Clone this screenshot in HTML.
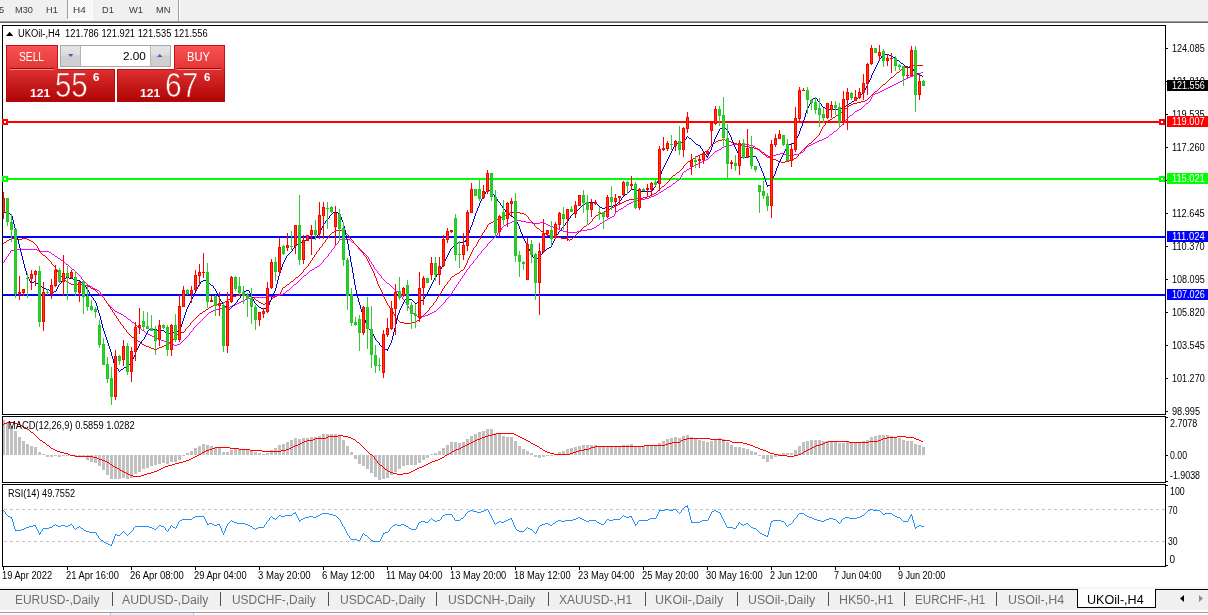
<!DOCTYPE html>
<html><head><meta charset="utf-8"><title>chart</title>
<style>
html,body{margin:0;padding:0;background:#fff;}
body{width:1208px;height:615px;position:relative;overflow:hidden;font-family:"Liberation Sans",sans-serif;}
.t{position:absolute;white-space:pre;line-height:1;font-family:"Liberation Sans",sans-serif;}
.box{position:absolute;}
</style></head><body>
<div class="box" style="left:0;top:0;width:1208px;height:21px;background:#f0f0f0"></div>
<div class="box" style="left:0;top:21px;width:1208px;height:1px;background:#9c9c9c"></div>
<div class="box" style="left:0;top:22px;width:1208px;height:1px;background:#686868"></div>
<div class="box" style="left:67px;top:0;width:26px;height:20px;background:#fff"></div>
<div class="box" style="left:68px;top:0;width:24px;height:19px;background:repeating-conic-gradient(#ffffff 0% 25%,#f0f0f0 0% 50%) 0 0/2px 2px"></div>
<div class="box" style="left:67px;top:0;width:1px;height:19px;background:#a0a0a0"></div>
<div class="box" style="left:178px;top:0;width:1px;height:21px;background:#a0a0a0"></div>
<div class="box" style="left:179px;top:0;width:1px;height:21px;background:#fff"></div>
<div id="t1" class="t " style="left:-1.2px;top:6.01px;font-size:9.2px;color:#383838;will-change:transform;">5</div>
<div id="t2" class="t " style="left:14.5px;top:6.01px;font-size:9.2px;color:#383838;transform:scaleX(0.9902);transform-origin:0 0;will-change:transform;">M30</div>
<div id="t3" class="t " style="left:45.5px;top:6.01px;font-size:9.2px;color:#383838;transform:scaleX(0.9957);transform-origin:0 0;will-change:transform;">H1</div>
<div id="t4" class="t " style="left:72.5px;top:6.01px;font-size:9.2px;color:#383838;transform:scaleX(1.0809);transform-origin:0 0;will-change:transform;">H4</div>
<div id="t5" class="t " style="left:101.7px;top:6.01px;font-size:9.2px;color:#383838;transform:scaleX(0.9872);transform-origin:0 0;will-change:transform;">D1</div>
<div id="t6" class="t " style="left:129px;top:6.01px;font-size:9.2px;color:#383838;transform:scaleX(1.0159);transform-origin:0 0;will-change:transform;">W1</div>
<div id="t7" class="t " style="left:156px;top:6.01px;font-size:9.2px;color:#383838;transform:scaleX(1.0142);transform-origin:0 0;will-change:transform;">MN</div>
<svg width="1208" height="615" viewBox="0 0 1208 615" style="position:absolute;left:0;top:0" shape-rendering="crispEdges">
<defs><clipPath id="cm"><rect x="3" y="26" width="1162" height="388"/></clipPath><clipPath id="cd"><rect x="3" y="417" width="1162" height="65"/></clipPath><clipPath id="cr"><rect x="3" y="485" width="1162" height="81"/></clipPath></defs>
<g fill="#000">
<rect x="2" y="25" width="1164" height="1"/>
<rect x="2" y="25" width="1" height="542"/>
<rect x="1165" y="25" width="1" height="390"/>
<rect x="2" y="414" width="1164" height="1"/>
<rect x="2" y="416" width="1164" height="1"/>
<rect x="1165" y="416" width="1" height="67"/>
<rect x="2" y="482" width="1164" height="1"/>
<rect x="2" y="484" width="1164" height="1"/>
<rect x="1165" y="484" width="1" height="83"/>
<rect x="2" y="566" width="1164" height="1"/>
</g>
<rect x="2" y="415" width="1" height="1" fill="#fff"/><rect x="2" y="483" width="1" height="1" fill="#fff"/>
<rect x="1166" y="48" width="2" height="1" fill="#000"/>
<rect x="1166" y="81" width="2" height="1" fill="#000"/>
<rect x="1166" y="114" width="2" height="1" fill="#000"/>
<rect x="1166" y="147" width="2" height="1" fill="#000"/>
<rect x="1166" y="180" width="2" height="1" fill="#000"/>
<rect x="1166" y="213" width="2" height="1" fill="#000"/>
<rect x="1166" y="246" width="2" height="1" fill="#000"/>
<rect x="1166" y="279" width="2" height="1" fill="#000"/>
<rect x="1166" y="312" width="2" height="1" fill="#000"/>
<rect x="1166" y="345" width="2" height="1" fill="#000"/>
<rect x="1166" y="378" width="2" height="1" fill="#000"/>
<rect x="1166" y="411" width="2" height="1" fill="#000"/>
<rect x="1166" y="417" width="2" height="1" fill="#000"/>
<rect x="1166" y="455" width="2" height="1" fill="#000"/>
<rect x="1166" y="481" width="2" height="1" fill="#000"/>
<rect x="1166" y="485" width="2" height="1" fill="#000"/>
<rect x="1166" y="565" width="2" height="1" fill="#000"/>
<rect x="3" y="567" width="1" height="3" fill="#000"/>
<rect x="67" y="567" width="1" height="3" fill="#000"/>
<rect x="131" y="567" width="1" height="3" fill="#000"/>
<rect x="195" y="567" width="1" height="3" fill="#000"/>
<rect x="259" y="567" width="1" height="3" fill="#000"/>
<rect x="323" y="567" width="1" height="3" fill="#000"/>
<rect x="387" y="567" width="1" height="3" fill="#000"/>
<rect x="451" y="567" width="1" height="3" fill="#000"/>
<rect x="515" y="567" width="1" height="3" fill="#000"/>
<rect x="579" y="567" width="1" height="3" fill="#000"/>
<rect x="643" y="567" width="1" height="3" fill="#000"/>
<rect x="707" y="567" width="1" height="3" fill="#000"/>
<rect x="771" y="567" width="1" height="3" fill="#000"/>
<rect x="835" y="567" width="1" height="3" fill="#000"/>
<rect x="899" y="567" width="1" height="3" fill="#000"/>
<g clip-path="url(#cm)">
<rect x="3" y="121" width="1162" height="2" fill="#ff0000"/>
<rect x="3" y="178" width="1162" height="2" fill="#00ff00"/>
<rect x="3" y="236" width="1162" height="2" fill="#0000ff"/>
<rect x="3" y="294" width="1162" height="2" fill="#0000ff"/>
<path d="M921 72h2M918 73h3M915 74h3M913 75h2M910 76h3M908 77h2M906 78h2M904 79h2M902 80h2M900 81h2M898 82h2M896 83h2M894 84h2M892 85h2M890 86h2M888 87h2M886 88h2M884 89h2M882 90h2M880 91h2M878 92h2M875 93h3M873 94h2M872 95h1M872 96h1M871 97h1M871 98h1M870 99h1M870 100h1M869 101h1M868 102h1M866 103h2M865 104h1M864 105h1M863 106h1M862 107h1M861 108h1M859 109h2M857 110h2M855 111h2M854 112h1M853 113h1M852 114h1M850 115h2M849 116h1M848 117h1M847 118h1M846 119h1M845 120h1M845 121h1M844 122h1M843 123h1M842 124h1M841 125h1M840 126h1M839 127h1M838 128h1M837 129h1M836 130h1M834 131h2M833 132h1M832 133h1M830 134h2M829 135h1M828 136h1M826 137h2M824 138h2M822 139h2M819 140h3M817 141h2M815 142h2M813 143h2M732 144h17M811 144h2M726 145h6M749 145h4M809 145h2M724 146h2M753 146h2M807 146h2M722 147h2M755 147h1M806 147h1M721 148h1M756 148h1M805 148h1M719 149h2M757 149h2M804 149h1M717 150h2M759 150h1M804 150h1M715 151h2M760 151h1M803 151h1M714 152h1M761 152h1M801 152h2M713 153h1M762 153h1M780 153h4M799 153h2M712 154h1M763 154h2M776 154h4M784 154h4M794 154h5M711 155h1M765 155h1M773 155h3M788 155h6M710 156h1M766 156h1M769 156h4M709 157h1M767 157h2M708 158h1M706 159h2M704 160h2M702 161h2M700 162h2M698 163h2M696 164h2M694 165h2M692 166h2M691 167h1M689 168h2M687 169h2M686 170h1M684 171h2M683 172h1M682 173h1M682 174h1M681 175h1M681 176h1M680 177h1M680 178h1M679 179h1M677 180h2M676 181h1M675 182h1M673 183h2M672 184h1M671 185h1M669 186h2M667 187h2M666 188h1M664 189h2M663 190h1M661 191h2M659 192h2M658 193h1M656 194h2M654 195h2M651 196h3M649 197h2M645 198h4M641 199h4M637 200h4M633 201h4M631 202h2M629 203h2M627 204h2M626 205h1M624 206h2M623 207h1M621 208h2M619 209h2M618 210h1M616 211h2M615 212h1M615 213h1M614 214h1M614 215h1M612 216h2M610 217h2M608 218h2M607 219h1M515 220h6M605 220h2M512 221h3M521 221h5M603 221h2M510 222h2M526 222h6M540 222h4M602 222h1M508 223h2M532 223h8M544 223h2M600 223h2M506 224h2M546 224h2M599 224h1M504 225h2M548 225h2M597 225h2M503 226h1M550 226h3M596 226h1M502 227h1M553 227h2M594 227h2M501 228h1M555 228h3M592 228h2M501 229h1M558 229h2M587 229h5M500 230h1M560 230h3M581 230h6M499 231h1M563 231h4M577 231h4M498 232h1M567 232h10M497 233h1M497 234h1M496 235h1M495 236h1M494 237h1M493 238h1M340 239h10M492 239h1M339 240h1M350 240h1M491 240h1M338 241h1M351 241h1M490 241h1M338 242h1M352 242h2M489 242h1M337 243h1M354 243h1M488 243h1M336 244h1M355 244h1M487 244h1M335 245h1M356 245h1M487 245h1M334 246h1M357 246h1M486 246h1M334 247h1M358 247h1M485 247h1M333 248h1M359 248h1M484 248h1M15 249h22M332 249h1M360 249h1M483 249h1M11 250h4M37 250h2M331 250h1M361 250h1M482 250h1M10 251h1M39 251h10M331 251h1M362 251h1M481 251h1M10 252h1M49 252h2M330 252h1M363 252h1M481 252h1M9 253h1M51 253h1M329 253h1M364 253h1M480 253h1M8 254h1M52 254h2M328 254h1M365 254h1M479 254h1M8 255h1M54 255h1M328 255h1M366 255h1M478 255h1M7 256h1M55 256h2M327 256h1M367 256h1M477 256h1M6 257h1M57 257h1M326 257h1M368 257h1M477 257h1M6 258h1M58 258h2M325 258h1M368 258h1M476 258h1M5 259h1M60 259h1M324 259h1M369 259h1M475 259h1M4 260h1M61 260h2M323 260h1M369 260h1M474 260h1M4 261h1M63 261h1M323 261h1M370 261h1M473 261h1M3 262h1M64 262h1M322 262h1M371 262h1M473 262h1M65 263h1M321 263h1M371 263h1M472 263h1M66 264h2M320 264h1M372 264h1M471 264h1M68 265h1M319 265h1M373 265h1M470 265h1M69 266h1M317 266h2M373 266h1M469 266h1M70 267h1M315 267h2M374 267h1M469 267h1M71 268h1M314 268h1M374 268h1M468 268h1M72 269h2M312 269h2M375 269h1M467 269h1M74 270h1M310 270h2M376 270h1M466 270h1M75 271h1M309 271h1M377 271h1M466 271h1M76 272h1M308 272h1M377 272h1M465 272h1M77 273h1M307 273h1M378 273h1M464 273h1M78 274h1M306 274h1M379 274h1M464 274h1M79 275h1M304 275h2M380 275h1M463 275h1M80 276h1M303 276h1M381 276h1M462 276h1M81 277h1M302 277h1M381 277h1M462 277h1M81 278h1M301 278h1M382 278h1M461 278h1M82 279h1M300 279h1M383 279h1M460 279h1M83 280h1M299 280h1M384 280h1M460 280h1M84 281h1M298 281h1M385 281h1M459 281h1M85 282h1M297 282h1M386 282h1M458 282h1M86 283h1M296 283h1M387 283h2M458 283h1M87 284h1M294 284h2M389 284h1M457 284h1M88 285h2M293 285h1M390 285h1M456 285h1M90 286h2M292 286h1M391 286h1M456 286h1M92 287h1M291 287h1M392 287h1M455 287h1M93 288h2M290 288h1M393 288h1M454 288h1M95 289h2M289 289h1M394 289h1M454 289h1M97 290h2M287 290h2M395 290h1M453 290h1M99 291h1M286 291h1M396 291h2M452 291h1M100 292h1M285 292h1M398 292h2M452 292h1M100 293h1M283 293h2M400 293h1M451 293h1M101 294h1M280 294h3M400 294h1M450 294h1M102 295h1M275 295h5M401 295h1M449 295h1M102 296h1M269 296h6M401 296h1M449 296h1M103 297h1M252 297h17M402 297h1M448 297h1M104 298h1M247 298h5M402 298h1M447 298h1M104 299h1M245 299h2M403 299h1M446 299h1M105 300h1M243 300h2M404 300h1M445 300h1M106 301h1M241 301h2M404 301h1M445 301h1M106 302h1M239 302h2M405 302h1M444 302h1M107 303h1M237 303h2M406 303h1M443 303h1M108 304h1M235 304h2M406 304h1M442 304h1M109 305h1M232 305h3M407 305h1M441 305h1M110 306h1M230 306h2M408 306h1M440 306h1M111 307h1M225 307h5M408 307h1M439 307h1M112 308h1M219 308h6M409 308h1M438 308h1M113 309h1M215 309h4M410 309h1M437 309h1M114 310h1M213 310h2M411 310h1M436 310h1M115 311h2M211 311h2M411 311h1M434 311h2M117 312h2M209 312h2M412 312h1M432 312h2M119 313h2M208 313h1M413 313h2M430 313h2M121 314h2M207 314h1M415 314h1M428 314h2M123 315h1M206 315h1M416 315h1M425 315h3M124 316h2M205 316h1M417 316h2M421 316h4M126 317h1M204 317h1M419 317h2M127 318h1M203 318h1M128 319h2M202 319h1M130 320h1M201 320h1M131 321h1M200 321h1M132 322h2M199 322h1M134 323h1M198 323h1M135 324h1M197 324h1M136 325h1M196 325h1M137 326h2M195 326h1M139 327h1M194 327h1M140 328h1M193 328h1M141 329h1M193 329h1M142 330h2M192 330h1M144 331h1M191 331h1M145 332h1M190 332h1M146 333h2M189 333h1M148 334h2M189 334h1M150 335h2M188 335h1M152 336h2M187 336h1M154 337h3M186 337h1M157 338h2M185 338h1M159 339h2M184 339h1M161 340h3M183 340h1M164 341h2M182 341h1M166 342h3M181 342h1M169 343h2M180 343h1M171 344h3M177 344h3M174 345h3" fill="none" stroke="#ff00ff" stroke-width="1" transform="translate(0,0.5)"/>
<path d="M913 65h10M909 66h4M905 67h4M903 68h2M901 69h2M900 70h1M899 71h1M897 72h2M896 73h1M895 74h1M894 75h1M893 76h1M891 77h2M890 78h1M889 79h1M888 80h1M887 81h1M886 82h1M885 83h1M883 84h2M882 85h1M881 86h1M880 87h1M879 88h1M878 89h1M877 90h1M875 91h2M874 92h1M873 93h1M872 94h1M871 95h1M870 96h1M869 97h1M868 98h1M867 99h1M865 100h2M861 101h4M857 102h4M853 103h4M851 104h2M849 105h2M848 106h1M847 107h1M845 108h2M844 109h1M843 110h1M842 111h1M841 112h1M840 113h1M838 114h2M836 115h2M835 116h1M833 117h2M832 118h1M830 119h2M828 120h2M827 121h1M826 122h1M825 123h1M825 124h1M824 125h1M823 126h1M822 127h1M822 128h1M821 129h1M821 130h1M820 131h1M820 132h1M819 133h1M819 134h1M818 135h1M817 136h1M816 137h1M815 138h1M722 139h3M814 139h1M718 140h4M725 140h3M813 140h1M716 141h2M728 141h3M812 141h1M715 142h1M731 142h2M811 142h1M713 143h2M733 143h4M809 143h2M712 144h1M737 144h4M808 144h1M711 145h1M741 145h4M807 145h1M710 146h1M745 146h4M806 146h1M709 147h1M749 147h5M805 147h1M709 148h1M754 148h4M804 148h1M708 149h1M758 149h2M803 149h1M707 150h1M760 150h1M802 150h1M705 151h2M761 151h1M801 151h1M704 152h1M762 152h2M800 152h1M702 153h2M764 153h1M799 153h1M700 154h2M765 154h1M798 154h1M698 155h2M766 155h2M798 155h1M696 156h2M768 156h1M797 156h1M695 157h1M769 157h2M796 157h1M693 158h2M771 158h2M794 158h2M691 159h2M773 159h3M792 159h2M690 160h1M776 160h2M789 160h3M688 161h2M778 161h3M785 161h4M687 162h1M781 162h4M686 163h1M685 164h1M684 165h1M683 166h1M683 167h1M682 168h1M681 169h1M680 170h1M679 171h1M677 172h2M676 173h1M675 174h1M673 175h2M672 176h1M671 177h1M670 178h1M669 179h1M669 180h1M668 181h1M667 182h1M666 183h1M665 184h1M664 185h1M662 186h2M661 187h1M660 188h1M659 189h1M658 190h1M657 191h1M656 192h1M654 193h2M652 194h2M650 195h2M647 196h3M643 197h4M636 198h7M629 199h7M626 200h3M624 201h2M622 202h2M620 203h2M618 204h2M616 205h2M614 206h2M612 207h2M610 208h2M608 209h2M606 210h2M604 211h2M510 212h10M602 212h2M508 213h2M520 213h4M600 213h2M506 214h2M524 214h2M598 214h2M505 215h1M526 215h1M596 215h2M503 216h2M527 216h1M595 216h1M501 217h2M528 217h1M594 217h1M499 218h2M528 218h1M593 218h1M497 219h2M529 219h1M592 219h1M495 220h2M530 220h1M592 220h1M493 221h2M531 221h1M591 221h1M491 222h2M532 222h1M590 222h1M489 223h2M533 223h1M589 223h1M488 224h1M534 224h1M587 224h2M487 225h1M534 225h1M586 225h1M487 226h1M535 226h1M584 226h2M486 227h1M536 227h1M583 227h1M486 228h1M537 228h2M582 228h1M485 229h1M539 229h1M581 229h1M336 230h6M484 230h1M540 230h1M580 230h1M334 231h2M342 231h2M484 231h1M541 231h2M579 231h1M332 232h2M344 232h1M483 232h1M543 232h1M578 232h1M331 233h1M345 233h2M482 233h1M544 233h2M577 233h1M330 234h1M347 234h1M482 234h1M546 234h2M576 234h1M329 235h1M348 235h1M481 235h1M548 235h2M575 235h1M329 236h1M349 236h1M481 236h1M550 236h3M574 236h1M328 237h1M349 237h1M480 237h1M553 237h8M573 237h1M11 238h4M22 238h5M327 238h1M350 238h1M480 238h1M561 238h6M572 238h1M9 239h2M15 239h7M27 239h2M326 239h1M351 239h1M479 239h1M567 239h2M570 239h2M7 240h2M29 240h2M325 240h1M352 240h1M478 240h1M569 240h1M6 241h1M31 241h2M325 241h1M353 241h1M478 241h1M4 242h2M33 242h1M324 242h1M353 242h1M477 242h1M3 243h1M34 243h1M323 243h1M354 243h1M477 243h1M35 244h1M322 244h1M355 244h1M476 244h1M36 245h1M322 245h1M356 245h1M476 245h1M37 246h1M321 246h1M357 246h1M475 246h1M37 247h1M320 247h1M358 247h1M474 247h1M38 248h1M319 248h1M358 248h1M473 248h1M38 249h1M319 249h1M359 249h1M473 249h1M39 250h1M318 250h1M360 250h1M472 250h1M39 251h1M317 251h1M361 251h1M472 251h1M40 252h1M316 252h1M362 252h1M471 252h1M41 253h1M316 253h1M363 253h1M471 253h1M42 254h1M315 254h1M363 254h1M470 254h1M43 255h2M314 255h1M364 255h1M470 255h1M45 256h1M314 256h1M365 256h1M469 256h1M46 257h1M313 257h1M366 257h1M469 257h1M47 258h1M312 258h1M366 258h1M468 258h1M48 259h1M312 259h1M367 259h1M468 259h1M49 260h1M311 260h1M367 260h1M467 260h1M50 261h1M310 261h1M368 261h1M467 261h1M51 262h1M310 262h1M368 262h1M467 262h1M51 263h1M309 263h1M369 263h1M466 263h1M52 264h1M308 264h1M369 264h1M466 264h1M53 265h1M308 265h1M370 265h1M465 265h1M54 266h1M307 266h1M370 266h1M465 266h1M55 267h1M306 267h1M371 267h1M464 267h1M55 268h1M305 268h1M371 268h1M464 268h1M56 269h1M304 269h1M372 269h1M463 269h1M57 270h1M303 270h1M372 270h1M461 270h2M57 271h1M303 271h1M373 271h1M460 271h1M58 272h1M302 272h1M373 272h1M459 272h1M59 273h1M301 273h1M374 273h1M457 273h2M60 274h1M300 274h1M374 274h1M455 274h2M60 275h1M299 275h1M374 275h1M454 275h1M61 276h1M298 276h1M375 276h1M452 276h2M62 277h1M296 277h2M375 277h1M451 277h1M62 278h1M295 278h1M376 278h1M450 278h1M63 279h1M294 279h1M376 279h1M450 279h1M64 280h2M293 280h1M376 280h1M449 280h1M66 281h1M291 281h2M377 281h1M448 281h1M67 282h2M290 282h1M377 282h1M447 282h1M69 283h2M289 283h1M377 283h1M447 283h1M71 284h12M287 284h2M378 284h1M446 284h1M83 285h5M286 285h1M378 285h1M445 285h1M88 286h2M285 286h1M379 286h1M444 286h1M90 287h1M283 287h2M379 287h1M444 287h1M91 288h2M282 288h1M380 288h1M443 288h1M93 289h2M282 289h1M380 289h1M442 289h1M95 290h1M281 290h1M381 290h1M442 290h1M96 291h1M281 291h1M381 291h1M441 291h1M97 292h1M280 292h1M382 292h1M441 292h1M98 293h1M280 293h1M382 293h1M440 293h1M99 294h2M241 294h4M279 294h1M382 294h1M439 294h1M101 295h1M236 295h5M245 295h4M277 295h2M383 295h1M439 295h1M102 296h1M233 296h3M249 296h3M275 296h2M383 296h1M438 296h1M103 297h1M231 297h2M252 297h2M273 297h2M384 297h1M437 297h1M104 298h1M230 298h1M254 298h1M272 298h1M384 298h1M437 298h1M104 299h1M228 299h2M255 299h1M271 299h1M385 299h1M436 299h1M105 300h1M227 300h1M256 300h2M270 300h1M385 300h1M436 300h1M106 301h1M225 301h2M258 301h1M269 301h1M386 301h1M435 301h1M106 302h1M222 302h3M259 302h2M268 302h1M386 302h1M434 302h1M107 303h1M218 303h4M261 303h2M265 303h3M387 303h1M433 303h1M108 304h1M215 304h3M263 304h2M387 304h1M433 304h1M108 305h1M213 305h2M388 305h1M432 305h1M109 306h1M211 306h2M389 306h1M431 306h1M110 307h1M209 307h2M389 307h1M430 307h1M110 308h1M208 308h1M390 308h1M429 308h1M111 309h1M206 309h2M391 309h1M429 309h1M112 310h1M205 310h1M392 310h1M428 310h1M112 311h1M203 311h2M392 311h1M427 311h1M113 312h1M202 312h1M393 312h1M426 312h1M114 313h1M200 313h2M393 313h1M425 313h1M114 314h1M199 314h1M394 314h1M424 314h1M115 315h1M198 315h1M394 315h1M423 315h1M116 316h1M197 316h1M395 316h1M422 316h1M116 317h1M196 317h1M395 317h1M421 317h1M117 318h1M195 318h1M396 318h1M420 318h1M118 319h1M194 319h1M397 319h1M419 319h1M118 320h1M193 320h1M398 320h1M417 320h2M119 321h1M192 321h1M399 321h1M416 321h1M120 322h1M191 322h1M400 322h4M411 322h5M120 323h1M190 323h1M404 323h7M121 324h1M190 324h1M122 325h1M189 325h1M123 326h1M188 326h1M123 327h1M187 327h1M124 328h1M186 328h1M125 329h1M185 329h1M126 330h1M185 330h1M126 331h1M184 331h1M127 332h1M179 332h5M128 333h1M178 333h1M129 334h1M177 334h1M130 335h1M176 335h1M131 336h1M175 336h1M132 337h2M175 337h1M134 338h2M174 338h1M136 339h1M173 339h1M137 340h1M172 340h1M138 341h2M171 341h1M140 342h1M169 342h2M141 343h1M168 343h1M142 344h2M166 344h2M144 345h2M164 345h2M146 346h3M162 346h2M149 347h2M159 347h3M151 348h3M157 348h2M154 349h3" fill="none" stroke="#ff0000" stroke-width="1" transform="translate(0,0.5)"/>
<path d="M883 54h6M882 55h1M889 55h3M881 56h1M892 56h1M881 57h1M893 57h2M880 58h1M895 58h1M879 59h1M896 59h1M879 60h1M897 60h2M878 61h1M899 61h1M878 62h1M900 62h1M877 63h1M901 63h2M877 64h1M903 64h1M876 65h1M904 65h1M876 66h1M905 66h2M875 67h1M907 67h5M875 68h1M912 68h1M874 69h1M913 69h1M874 70h1M913 70h1M873 71h1M914 71h1M873 72h1M915 72h1M872 73h1M916 73h2M872 74h1M918 74h2M871 75h1M920 75h2M871 76h1M922 76h1M871 77h1M870 78h1M870 79h1M869 80h1M869 81h1M868 82h1M868 83h1M867 84h1M867 85h1M866 86h1M866 87h1M865 88h1M865 89h1M864 90h1M864 91h1M863 92h1M862 93h1M861 94h1M860 95h1M859 96h1M815 97h1M858 97h1M813 98h2M816 98h1M857 98h1M812 99h1M817 99h1M856 99h1M811 100h1M817 100h1M854 100h2M811 101h1M818 101h1M852 101h2M810 102h1M819 102h1M851 102h1M810 103h1M820 103h1M849 103h2M809 104h1M821 104h1M848 104h1M809 105h1M821 105h1M846 105h2M808 106h1M822 106h1M844 106h2M808 107h1M823 107h2M842 107h2M807 108h1M825 108h4M840 108h2M807 109h1M829 109h11M806 110h1M806 111h1M806 112h1M805 113h1M805 114h1M805 115h1M805 116h1M804 117h1M804 118h1M804 119h1M803 120h1M803 121h1M803 122h1M802 123h1M802 124h1M802 125h1M801 126h1M722 127h2M801 127h1M720 128h2M724 128h2M800 128h1M719 129h1M726 129h2M800 129h1M719 130h1M727 130h1M800 130h1M718 131h1M728 131h1M799 131h1M718 132h1M728 132h1M799 132h1M717 133h1M729 133h1M799 133h1M717 134h1M729 134h1M798 134h1M716 135h1M730 135h1M798 135h1M687 136h1M716 136h1M730 136h1M797 136h1M686 137h1M688 137h1M715 137h1M731 137h1M797 137h1M686 138h1M689 138h2M715 138h1M731 138h1M796 138h1M685 139h1M691 139h1M714 139h1M731 139h1M796 139h1M684 140h1M692 140h1M714 140h1M732 140h1M795 140h1M684 141h1M693 141h1M714 141h1M732 141h1M794 141h1M681 142h3M694 142h1M713 142h1M733 142h1M794 142h1M677 143h4M695 143h1M713 143h1M733 143h1M792 143h2M675 144h2M696 144h2M712 144h1M733 144h1M789 144h3M674 145h1M698 145h2M712 145h1M734 145h1M787 145h2M674 146h1M700 146h1M712 146h1M734 146h1M787 146h1M673 147h1M700 147h1M711 147h1M735 147h1M786 147h1M673 148h1M701 148h1M711 148h1M735 148h1M786 148h1M672 149h1M702 149h1M711 149h1M736 149h1M785 149h1M672 150h1M702 150h1M710 150h1M736 150h1M785 150h1M671 151h1M703 151h1M710 151h1M737 151h1M784 151h1M671 152h1M704 152h1M709 152h1M737 152h1M784 152h1M670 153h1M704 153h1M709 153h1M738 153h1M783 153h1M670 154h1M705 154h1M708 154h1M738 154h1M783 154h1M669 155h1M706 155h1M708 155h1M739 155h1M782 155h1M669 156h1M706 156h2M739 156h2M749 156h7M782 156h1M668 157h1M707 157h1M741 157h8M756 157h1M781 157h1M668 158h1M756 158h1M781 158h1M667 159h1M757 159h1M780 159h1M667 160h1M757 160h1M780 160h1M666 161h1M758 161h1M779 161h1M666 162h1M758 162h1M779 162h1M665 163h1M759 163h1M778 163h1M665 164h1M759 164h1M778 164h1M664 165h1M759 165h1M778 165h1M664 166h1M760 166h1M777 166h1M663 167h1M760 167h1M777 167h1M663 168h1M761 168h1M776 168h1M662 169h1M761 169h1M776 169h1M662 170h1M761 170h1M776 170h1M661 171h1M762 171h1M775 171h1M661 172h1M762 172h1M775 172h1M661 173h1M763 173h1M775 173h1M660 174h1M763 174h1M774 174h1M660 175h1M763 175h1M774 175h1M659 176h1M764 176h1M773 176h1M659 177h1M764 177h1M773 177h1M659 178h1M764 178h1M772 178h1M658 179h1M765 179h1M772 179h1M658 180h1M765 180h1M771 180h1M657 181h1M765 181h1M771 181h1M657 182h1M766 182h1M771 182h1M656 183h1M766 183h1M770 183h1M656 184h1M766 184h1M770 184h1M655 185h1M767 185h3M655 186h1M767 186h1M654 187h1M653 188h1M631 189h6M653 189h1M487 190h4M630 190h1M637 190h4M652 190h1M486 191h1M491 191h1M629 191h1M641 191h11M485 192h1M491 192h1M628 192h1M485 193h1M492 193h1M627 193h1M484 194h1M493 194h1M625 194h2M483 195h1M494 195h1M624 195h1M483 196h1M494 196h1M623 196h1M482 197h1M495 197h1M622 197h1M482 198h1M496 198h1M621 198h1M481 199h1M497 199h1M621 199h1M481 200h1M497 200h1M620 200h1M480 201h1M498 201h1M619 201h1M480 202h1M499 202h1M589 202h7M618 202h1M479 203h1M500 203h1M585 203h4M596 203h1M617 203h1M479 204h1M500 204h1M583 204h2M597 204h1M616 204h1M479 205h1M501 205h1M582 205h1M598 205h1M613 205h3M478 206h1M502 206h1M581 206h1M599 206h1M609 206h4M478 207h1M502 207h1M580 207h1M600 207h2M605 207h4M477 208h1M503 208h1M579 208h1M602 208h3M477 209h1M504 209h1M578 209h1M477 210h1M505 210h1M577 210h1M3 211h2M335 211h1M476 211h1M505 211h1M576 211h1M5 212h2M333 212h2M336 212h2M476 212h1M506 212h1M575 212h1M7 213h3M332 213h1M338 213h2M475 213h1M507 213h1M573 213h2M10 214h2M331 214h1M339 214h1M475 214h1M508 214h2M572 214h1M11 215h1M330 215h1M340 215h1M475 215h1M510 215h1M571 215h1M12 216h1M329 216h1M340 216h1M474 216h1M511 216h2M570 216h1M12 217h1M329 217h1M341 217h1M474 217h1M513 217h1M570 217h1M12 218h1M328 218h1M341 218h1M474 218h1M514 218h1M569 218h1M12 219h1M327 219h1M341 219h1M473 219h1M515 219h1M568 219h1M13 220h1M326 220h1M342 220h1M473 220h1M516 220h1M568 220h1M13 221h1M325 221h1M342 221h1M473 221h1M516 221h1M567 221h1M13 222h1M325 222h1M343 222h1M472 222h1M517 222h1M566 222h1M13 223h1M324 223h1M343 223h1M472 223h1M517 223h1M565 223h1M14 224h1M323 224h1M343 224h1M472 224h1M518 224h1M565 224h1M14 225h1M323 225h1M343 225h1M471 225h1M518 225h1M564 225h1M14 226h1M322 226h1M344 226h1M471 226h1M519 226h1M563 226h1M14 227h1M322 227h1M344 227h1M470 227h1M519 227h1M562 227h1M15 228h1M321 228h1M344 228h1M470 228h1M519 228h1M561 228h1M15 229h1M321 229h1M344 229h1M470 229h1M520 229h1M561 229h1M15 230h1M320 230h1M345 230h1M469 230h1M520 230h1M560 230h1M15 231h1M320 231h1M345 231h1M469 231h1M520 231h1M559 231h1M16 232h1M319 232h1M345 232h1M469 232h1M521 232h1M558 232h1M16 233h1M319 233h1M345 233h1M468 233h1M521 233h1M558 233h1M16 234h1M318 234h1M345 234h1M468 234h1M522 234h1M557 234h1M16 235h1M317 235h1M346 235h1M468 235h1M522 235h1M556 235h1M17 236h1M317 236h1M346 236h1M467 236h1M522 236h1M556 236h1M17 237h1M316 237h1M346 237h1M467 237h1M523 237h1M555 237h1M17 238h1M309 238h7M346 238h1M466 238h1M523 238h1M555 238h1M17 239h1M307 239h2M347 239h1M466 239h1M524 239h1M554 239h1M18 240h1M305 240h2M347 240h1M465 240h1M524 240h1M554 240h1M18 241h1M304 241h1M347 241h1M464 241h2M525 241h1M553 241h1M18 242h1M301 242h3M347 242h1M458 242h6M525 242h1M553 242h1M18 243h1M298 243h3M347 243h1M456 243h2M526 243h1M552 243h1M19 244h1M296 244h2M348 244h1M455 244h1M526 244h1M552 244h1M19 245h1M295 245h1M348 245h1M454 245h1M527 245h1M551 245h1M19 246h1M294 246h1M348 246h1M453 246h1M527 246h1M551 246h1M19 247h1M294 247h1M348 247h1M452 247h1M528 247h1M549 247h2M20 248h1M293 248h1M348 248h1M451 248h1M528 248h1M547 248h2M20 249h1M292 249h1M348 249h1M450 249h1M529 249h1M546 249h1M20 250h1M292 250h1M349 250h1M450 250h1M529 250h1M544 250h2M20 251h1M291 251h1M349 251h1M449 251h1M530 251h1M543 251h1M21 252h1M290 252h1M349 252h1M449 252h1M530 252h1M542 252h1M21 253h1M289 253h1M349 253h1M448 253h1M531 253h1M542 253h1M21 254h1M288 254h1M349 254h1M448 254h1M531 254h1M541 254h1M21 255h1M287 255h1M349 255h1M447 255h1M532 255h1M540 255h1M22 256h1M286 256h1M350 256h1M447 256h1M532 256h1M540 256h1M22 257h1M286 257h1M350 257h1M446 257h1M533 257h1M539 257h1M22 258h1M285 258h1M350 258h1M446 258h1M534 258h1M537 258h2M22 259h1M285 259h1M350 259h1M445 259h1M534 259h1M536 259h1M23 260h1M284 260h1M350 260h1M445 260h1M535 260h1M23 261h1M284 261h1M350 261h1M444 261h1M23 262h1M283 262h1M351 262h1M444 262h1M23 263h1M283 263h1M351 263h1M443 263h1M24 264h1M282 264h1M351 264h1M443 264h1M24 265h1M282 265h1M351 265h1M442 265h1M24 266h1M282 266h1M351 266h1M442 266h1M24 267h1M281 267h1M352 267h1M441 267h1M25 268h1M281 268h1M352 268h1M441 268h1M25 269h1M281 269h1M352 269h1M440 269h1M25 270h1M280 270h1M352 270h1M440 270h1M26 271h1M280 271h1M352 271h1M439 271h1M26 272h1M280 272h1M352 272h1M438 272h1M26 273h1M279 273h1M353 273h1M438 273h1M26 274h1M279 274h1M353 274h1M437 274h1M27 275h1M279 275h1M353 275h1M436 275h1M27 276h1M278 276h1M353 276h1M436 276h1M28 277h1M66 277h3M278 277h1M353 277h1M435 277h1M28 278h1M64 278h2M69 278h4M278 278h1M353 278h1M434 278h1M29 279h1M63 279h1M73 279h4M278 279h1M354 279h1M434 279h1M29 280h1M62 280h1M77 280h3M203 280h4M277 280h1M354 280h1M433 280h1M30 281h1M34 281h1M61 281h1M80 281h1M201 281h2M207 281h1M277 281h1M354 281h1M433 281h1M30 282h1M32 282h2M35 282h1M61 282h1M81 282h2M200 282h1M208 282h1M277 282h1M354 282h1M432 282h1M31 283h1M36 283h2M60 283h1M83 283h1M200 283h1M209 283h1M277 283h1M354 283h1M432 283h1M38 284h1M59 284h1M84 284h1M199 284h1M210 284h1M276 284h1M354 284h1M431 284h1M39 285h1M58 285h1M84 285h1M198 285h1M211 285h2M276 285h1M355 285h1M431 285h1M40 286h2M58 286h1M85 286h1M198 286h1M213 286h1M276 286h1M355 286h1M430 286h1M42 287h1M57 287h1M86 287h1M197 287h1M213 287h1M276 287h1M355 287h1M430 287h1M43 288h3M57 288h1M86 288h1M197 288h1M214 288h1M275 288h1M355 288h1M429 288h1M46 289h3M56 289h1M87 289h1M196 289h1M215 289h1M275 289h1M355 289h1M429 289h1M49 290h1M56 290h1M88 290h1M196 290h1M215 290h1M246 290h3M275 290h1M356 290h1M428 290h1M50 291h1M54 291h2M88 291h1M195 291h1M216 291h1M243 291h3M249 291h1M274 291h1M356 291h1M428 291h1M50 292h1M52 292h2M89 292h1M195 292h1M216 292h1M242 292h1M249 292h1M274 292h1M356 292h1M427 292h1M51 293h1M89 293h1M194 293h1M217 293h1M242 293h1M250 293h1M273 293h1M356 293h1M427 293h1M90 294h1M194 294h1M217 294h1M241 294h1M250 294h1M273 294h1M357 294h1M426 294h1M90 295h1M193 295h1M218 295h1M241 295h1M251 295h1M272 295h1M357 295h1M426 295h1M91 296h1M193 296h1M218 296h1M240 296h1M251 296h1M272 296h1M357 296h1M425 296h1M92 297h1M192 297h1M219 297h1M240 297h1M252 297h1M271 297h1M357 297h1M424 297h1M93 298h1M192 298h1M219 298h1M239 298h1M252 298h1M271 298h1M358 298h1M407 298h2M424 298h1M93 299h1M191 299h1M220 299h1M238 299h1M253 299h1M271 299h1M358 299h1M405 299h2M409 299h3M423 299h1M94 300h1M191 300h1M220 300h1M237 300h1M253 300h1M270 300h1M358 300h1M404 300h1M412 300h1M421 300h2M95 301h1M190 301h1M221 301h1M237 301h1M254 301h1M270 301h1M358 301h1M404 301h1M413 301h1M420 301h1M95 302h1M190 302h1M222 302h1M236 302h1M254 302h1M269 302h1M359 302h1M403 302h1M414 302h1M417 302h3M96 303h1M189 303h1M222 303h1M235 303h1M255 303h1M269 303h1M359 303h1M403 303h1M415 303h2M96 304h1M189 304h1M223 304h1M234 304h1M256 304h1M269 304h1M359 304h1M402 304h1M96 305h1M188 305h1M224 305h1M233 305h1M257 305h1M268 305h1M360 305h1M402 305h1M97 306h1M188 306h1M225 306h1M232 306h1M258 306h1M268 306h1M360 306h1M401 306h1M97 307h1M187 307h1M226 307h2M231 307h1M259 307h2M267 307h1M360 307h1M401 307h1M97 308h1M187 308h1M228 308h1M230 308h1M261 308h7M360 308h1M400 308h1M97 309h1M186 309h1M229 309h1M361 309h1M400 309h1M98 310h1M186 310h1M361 310h1M399 310h1M98 311h1M186 311h1M361 311h1M399 311h1M98 312h1M185 312h1M362 312h1M399 312h1M99 313h1M185 313h1M362 313h1M398 313h1M99 314h1M185 314h1M362 314h1M398 314h1M99 315h1M184 315h1M363 315h1M397 315h1M100 316h1M184 316h1M363 316h1M397 316h1M100 317h1M184 317h1M363 317h1M397 317h1M100 318h1M183 318h1M364 318h1M397 318h1M100 319h1M183 319h1M364 319h1M396 319h1M101 320h1M183 320h1M365 320h1M396 320h1M101 321h1M182 321h1M365 321h1M396 321h1M101 322h1M182 322h1M365 322h1M396 322h1M101 323h1M182 323h1M366 323h1M396 323h1M102 324h1M181 324h1M366 324h1M395 324h1M102 325h1M181 325h1M366 325h1M395 325h1M102 326h1M181 326h1M367 326h1M395 326h1M102 327h1M180 327h1M367 327h1M395 327h1M103 328h1M151 328h2M180 328h1M368 328h1M394 328h1M103 329h1M149 329h2M153 329h4M180 329h1M369 329h1M394 329h1M103 330h1M148 330h1M157 330h7M179 330h1M370 330h1M394 330h1M104 331h1M147 331h1M164 331h1M177 331h3M371 331h1M394 331h1M104 332h1M147 332h1M165 332h2M173 332h4M372 332h1M393 332h1M104 333h1M146 333h1M167 333h6M372 333h1M393 333h1M105 334h1M146 334h1M373 334h1M393 334h1M105 335h1M145 335h1M373 335h1M393 335h1M105 336h1M145 336h1M374 336h1M392 336h1M106 337h1M144 337h1M374 337h1M392 337h1M106 338h1M144 338h1M375 338h1M392 338h1M106 339h1M143 339h1M375 339h1M392 339h1M107 340h1M142 340h1M376 340h1M391 340h1M107 341h1M141 341h1M377 341h1M391 341h1M107 342h1M141 342h1M378 342h1M391 342h1M108 343h1M140 343h1M379 343h1M390 343h1M108 344h1M139 344h1M379 344h1M390 344h1M108 345h1M139 345h1M380 345h1M389 345h1M109 346h1M138 346h1M381 346h1M389 346h1M109 347h1M138 347h1M382 347h1M388 347h1M109 348h1M137 348h1M383 348h2M388 348h1M110 349h1M137 349h1M385 349h3M110 350h1M136 350h1M387 350h1M110 351h1M136 351h1M111 352h1M135 352h1M111 353h1M135 353h1M111 354h1M135 354h1M111 355h1M134 355h1M112 356h1M134 356h1M112 357h1M133 357h1M112 358h1M133 358h1M113 359h1M132 359h1M113 360h1M132 360h1M113 361h1M131 361h1M113 362h1M131 362h1M114 363h1M130 363h1M114 364h1M128 364h2M115 365h1M127 365h1M115 366h1M126 366h1M116 367h1M124 367h2M117 368h1M123 368h1M118 369h1M121 369h2M118 370h1M120 370h1M119 371h1" fill="none" stroke="#0000cd" stroke-width="1" transform="translate(0,0.5)"/>
<rect x="3" y="192" width="1" height="27" fill="#ff0000"/>
<rect x="2" y="198" width="3" height="15" fill="#ff0000"/>
<rect x="3" y="199" width="1" height="13" fill="#ff3c00"/>
<rect x="7" y="198" width="1" height="28" fill="#32cd32"/>
<rect x="6" y="198" width="3" height="24" fill="#22c822"/>
<rect x="7" y="199" width="1" height="22" fill="#32cd32"/>
<rect x="11" y="214" width="1" height="28" fill="#32cd32"/>
<rect x="10" y="222" width="3" height="8" fill="#22c822"/>
<rect x="11" y="223" width="1" height="6" fill="#32cd32"/>
<rect x="15" y="229" width="1" height="69" fill="#32cd32"/>
<rect x="14" y="229" width="3" height="65" fill="#22c822"/>
<rect x="15" y="230" width="1" height="63" fill="#32cd32"/>
<rect x="19" y="276" width="1" height="24" fill="#ff0000"/>
<rect x="18" y="292" width="3" height="2" fill="#ff0000"/>
<rect x="23" y="289" width="1" height="7" fill="#ff0000"/>
<rect x="22" y="289" width="3" height="4" fill="#ff0000"/>
<rect x="23" y="290" width="1" height="2" fill="#ff3c00"/>
<rect x="27" y="273" width="1" height="25" fill="#32cd32"/>
<rect x="26" y="278" width="3" height="1" fill="#22c822"/>
<rect x="31" y="270" width="1" height="20" fill="#ff0000"/>
<rect x="30" y="274" width="3" height="5" fill="#ff0000"/>
<rect x="31" y="275" width="1" height="3" fill="#ff3c00"/>
<rect x="35" y="270" width="1" height="16" fill="#ff0000"/>
<rect x="34" y="271" width="3" height="4" fill="#ff0000"/>
<rect x="35" y="272" width="1" height="2" fill="#ff3c00"/>
<rect x="39" y="266" width="1" height="61" fill="#32cd32"/>
<rect x="38" y="271" width="3" height="51" fill="#22c822"/>
<rect x="39" y="272" width="1" height="49" fill="#32cd32"/>
<rect x="43" y="282" width="1" height="49" fill="#ff0000"/>
<rect x="42" y="292" width="3" height="30" fill="#ff0000"/>
<rect x="43" y="293" width="1" height="28" fill="#ff3c00"/>
<rect x="47" y="289" width="1" height="6" fill="#32cd32"/>
<rect x="46" y="292" width="3" height="1" fill="#22c822"/>
<rect x="51" y="279" width="1" height="20" fill="#ff0000"/>
<rect x="50" y="285" width="3" height="9" fill="#ff0000"/>
<rect x="51" y="286" width="1" height="7" fill="#ff3c00"/>
<rect x="55" y="265" width="1" height="22" fill="#ff0000"/>
<rect x="54" y="270" width="3" height="16" fill="#ff0000"/>
<rect x="55" y="271" width="1" height="14" fill="#ff3c00"/>
<rect x="59" y="268" width="1" height="15" fill="#32cd32"/>
<rect x="58" y="270" width="3" height="12" fill="#22c822"/>
<rect x="59" y="271" width="1" height="10" fill="#32cd32"/>
<rect x="63" y="255" width="1" height="41" fill="#ff0000"/>
<rect x="62" y="273" width="3" height="9" fill="#ff0000"/>
<rect x="63" y="274" width="1" height="7" fill="#ff3c00"/>
<rect x="67" y="266" width="1" height="34" fill="#32cd32"/>
<rect x="66" y="273" width="3" height="4" fill="#22c822"/>
<rect x="67" y="274" width="1" height="2" fill="#32cd32"/>
<rect x="71" y="270" width="1" height="9" fill="#ff0000"/>
<rect x="70" y="272" width="3" height="6" fill="#ff0000"/>
<rect x="71" y="273" width="1" height="4" fill="#ff3c00"/>
<rect x="75" y="271" width="1" height="25" fill="#32cd32"/>
<rect x="74" y="277" width="3" height="15" fill="#22c822"/>
<rect x="75" y="278" width="1" height="13" fill="#32cd32"/>
<rect x="79" y="281" width="1" height="21" fill="#ff0000"/>
<rect x="78" y="282" width="3" height="11" fill="#ff0000"/>
<rect x="79" y="283" width="1" height="9" fill="#ff3c00"/>
<rect x="83" y="281" width="1" height="33" fill="#32cd32"/>
<rect x="82" y="281" width="3" height="16" fill="#22c822"/>
<rect x="83" y="282" width="1" height="14" fill="#32cd32"/>
<rect x="87" y="286" width="1" height="25" fill="#32cd32"/>
<rect x="86" y="296" width="3" height="11" fill="#22c822"/>
<rect x="87" y="297" width="1" height="9" fill="#32cd32"/>
<rect x="91" y="300" width="1" height="11" fill="#32cd32"/>
<rect x="90" y="306" width="3" height="4" fill="#22c822"/>
<rect x="91" y="307" width="1" height="2" fill="#32cd32"/>
<rect x="95" y="307" width="1" height="11" fill="#32cd32"/>
<rect x="94" y="309" width="3" height="3" fill="#22c822"/>
<rect x="95" y="310" width="1" height="1" fill="#32cd32"/>
<rect x="99" y="320" width="1" height="28" fill="#32cd32"/>
<rect x="98" y="325" width="3" height="20" fill="#22c822"/>
<rect x="99" y="326" width="1" height="18" fill="#32cd32"/>
<rect x="103" y="338" width="1" height="27" fill="#32cd32"/>
<rect x="102" y="344" width="3" height="21" fill="#22c822"/>
<rect x="103" y="345" width="1" height="19" fill="#32cd32"/>
<rect x="107" y="357" width="1" height="26" fill="#32cd32"/>
<rect x="106" y="364" width="3" height="15" fill="#22c822"/>
<rect x="107" y="365" width="1" height="13" fill="#32cd32"/>
<rect x="111" y="367" width="1" height="38" fill="#32cd32"/>
<rect x="110" y="378" width="3" height="19" fill="#22c822"/>
<rect x="111" y="379" width="1" height="17" fill="#32cd32"/>
<rect x="115" y="350" width="1" height="50" fill="#ff0000"/>
<rect x="114" y="356" width="3" height="41" fill="#ff0000"/>
<rect x="115" y="357" width="1" height="39" fill="#ff3c00"/>
<rect x="119" y="355" width="1" height="10" fill="#32cd32"/>
<rect x="118" y="356" width="3" height="5" fill="#22c822"/>
<rect x="119" y="357" width="1" height="3" fill="#32cd32"/>
<rect x="123" y="340" width="1" height="26" fill="#ff0000"/>
<rect x="122" y="346" width="3" height="14" fill="#ff0000"/>
<rect x="123" y="347" width="1" height="12" fill="#ff3c00"/>
<rect x="127" y="343" width="1" height="32" fill="#32cd32"/>
<rect x="126" y="346" width="3" height="26" fill="#22c822"/>
<rect x="127" y="347" width="1" height="24" fill="#32cd32"/>
<rect x="131" y="347" width="1" height="35" fill="#ff0000"/>
<rect x="130" y="351" width="3" height="21" fill="#ff0000"/>
<rect x="131" y="352" width="1" height="19" fill="#ff3c00"/>
<rect x="135" y="322" width="1" height="39" fill="#ff0000"/>
<rect x="134" y="327" width="3" height="25" fill="#ff0000"/>
<rect x="135" y="328" width="1" height="23" fill="#ff3c00"/>
<rect x="139" y="308" width="1" height="26" fill="#ff0000"/>
<rect x="138" y="325" width="3" height="3" fill="#ff0000"/>
<rect x="139" y="326" width="1" height="1" fill="#ff3c00"/>
<rect x="143" y="311" width="1" height="19" fill="#32cd32"/>
<rect x="142" y="321" width="3" height="6" fill="#22c822"/>
<rect x="143" y="322" width="1" height="4" fill="#32cd32"/>
<rect x="147" y="312" width="1" height="17" fill="#32cd32"/>
<rect x="146" y="326" width="3" height="3" fill="#22c822"/>
<rect x="147" y="327" width="1" height="1" fill="#32cd32"/>
<rect x="151" y="315" width="1" height="16" fill="#32cd32"/>
<rect x="150" y="328" width="3" height="3" fill="#22c822"/>
<rect x="151" y="329" width="1" height="1" fill="#32cd32"/>
<rect x="155" y="326" width="1" height="29" fill="#32cd32"/>
<rect x="154" y="330" width="3" height="11" fill="#22c822"/>
<rect x="155" y="331" width="1" height="9" fill="#32cd32"/>
<rect x="159" y="320" width="1" height="26" fill="#ff0000"/>
<rect x="158" y="325" width="3" height="15" fill="#ff0000"/>
<rect x="159" y="326" width="1" height="13" fill="#ff3c00"/>
<rect x="163" y="324" width="1" height="5" fill="#32cd32"/>
<rect x="162" y="325" width="3" height="3" fill="#22c822"/>
<rect x="163" y="326" width="1" height="1" fill="#32cd32"/>
<rect x="167" y="325" width="1" height="31" fill="#32cd32"/>
<rect x="166" y="327" width="3" height="23" fill="#22c822"/>
<rect x="167" y="328" width="1" height="21" fill="#32cd32"/>
<rect x="171" y="324" width="1" height="32" fill="#ff0000"/>
<rect x="170" y="325" width="3" height="25" fill="#ff0000"/>
<rect x="171" y="326" width="1" height="23" fill="#ff3c00"/>
<rect x="175" y="314" width="1" height="28" fill="#32cd32"/>
<rect x="174" y="325" width="3" height="15" fill="#22c822"/>
<rect x="175" y="326" width="1" height="13" fill="#32cd32"/>
<rect x="179" y="295" width="1" height="47" fill="#ff0000"/>
<rect x="178" y="306" width="3" height="34" fill="#ff0000"/>
<rect x="179" y="307" width="1" height="32" fill="#ff3c00"/>
<rect x="183" y="286" width="1" height="21" fill="#ff0000"/>
<rect x="182" y="290" width="3" height="17" fill="#ff0000"/>
<rect x="183" y="291" width="1" height="15" fill="#ff3c00"/>
<rect x="187" y="289" width="1" height="6" fill="#32cd32"/>
<rect x="186" y="290" width="3" height="4" fill="#22c822"/>
<rect x="187" y="291" width="1" height="2" fill="#32cd32"/>
<rect x="191" y="286" width="1" height="17" fill="#ff0000"/>
<rect x="190" y="290" width="3" height="4" fill="#ff0000"/>
<rect x="191" y="291" width="1" height="2" fill="#ff3c00"/>
<rect x="195" y="270" width="1" height="21" fill="#ff0000"/>
<rect x="194" y="275" width="3" height="15" fill="#ff0000"/>
<rect x="195" y="276" width="1" height="13" fill="#ff3c00"/>
<rect x="199" y="264" width="1" height="22" fill="#ff0000"/>
<rect x="198" y="272" width="3" height="4" fill="#ff0000"/>
<rect x="199" y="273" width="1" height="2" fill="#ff3c00"/>
<rect x="203" y="253" width="1" height="25" fill="#ff0000"/>
<rect x="202" y="272" width="3" height="1" fill="#ff0000"/>
<rect x="207" y="263" width="1" height="45" fill="#32cd32"/>
<rect x="206" y="272" width="3" height="30" fill="#22c822"/>
<rect x="207" y="273" width="1" height="28" fill="#32cd32"/>
<rect x="211" y="296" width="1" height="6" fill="#ff0000"/>
<rect x="210" y="300" width="3" height="2" fill="#ff0000"/>
<rect x="215" y="295" width="1" height="21" fill="#32cd32"/>
<rect x="214" y="296" width="3" height="10" fill="#22c822"/>
<rect x="215" y="297" width="1" height="8" fill="#32cd32"/>
<rect x="219" y="292" width="1" height="24" fill="#ff0000"/>
<rect x="218" y="303" width="3" height="3" fill="#ff0000"/>
<rect x="219" y="304" width="1" height="1" fill="#ff3c00"/>
<rect x="223" y="302" width="1" height="50" fill="#32cd32"/>
<rect x="222" y="305" width="3" height="41" fill="#22c822"/>
<rect x="223" y="306" width="1" height="39" fill="#32cd32"/>
<rect x="227" y="292" width="1" height="61" fill="#ff0000"/>
<rect x="226" y="301" width="3" height="45" fill="#ff0000"/>
<rect x="227" y="302" width="1" height="43" fill="#ff3c00"/>
<rect x="231" y="276" width="1" height="27" fill="#ff0000"/>
<rect x="230" y="277" width="3" height="25" fill="#ff0000"/>
<rect x="231" y="278" width="1" height="23" fill="#ff3c00"/>
<rect x="235" y="276" width="1" height="15" fill="#32cd32"/>
<rect x="234" y="277" width="3" height="12" fill="#22c822"/>
<rect x="235" y="278" width="1" height="10" fill="#32cd32"/>
<rect x="239" y="277" width="1" height="18" fill="#32cd32"/>
<rect x="238" y="286" width="3" height="7" fill="#22c822"/>
<rect x="239" y="287" width="1" height="5" fill="#32cd32"/>
<rect x="243" y="286" width="1" height="18" fill="#32cd32"/>
<rect x="242" y="292" width="3" height="4" fill="#22c822"/>
<rect x="243" y="293" width="1" height="2" fill="#32cd32"/>
<rect x="247" y="293" width="1" height="24" fill="#32cd32"/>
<rect x="246" y="295" width="3" height="4" fill="#22c822"/>
<rect x="247" y="296" width="1" height="2" fill="#32cd32"/>
<rect x="251" y="288" width="1" height="36" fill="#32cd32"/>
<rect x="250" y="298" width="3" height="9" fill="#22c822"/>
<rect x="251" y="299" width="1" height="7" fill="#32cd32"/>
<rect x="255" y="305" width="1" height="25" fill="#32cd32"/>
<rect x="254" y="307" width="3" height="13" fill="#22c822"/>
<rect x="255" y="308" width="1" height="11" fill="#32cd32"/>
<rect x="259" y="312" width="1" height="14" fill="#ff0000"/>
<rect x="258" y="312" width="3" height="8" fill="#ff0000"/>
<rect x="259" y="313" width="1" height="6" fill="#ff3c00"/>
<rect x="263" y="308" width="1" height="10" fill="#ff0000"/>
<rect x="262" y="311" width="3" height="3" fill="#ff0000"/>
<rect x="263" y="312" width="1" height="1" fill="#ff3c00"/>
<rect x="267" y="282" width="1" height="31" fill="#ff0000"/>
<rect x="266" y="288" width="3" height="24" fill="#ff0000"/>
<rect x="267" y="289" width="1" height="22" fill="#ff3c00"/>
<rect x="271" y="259" width="1" height="30" fill="#ff0000"/>
<rect x="270" y="262" width="3" height="26" fill="#ff0000"/>
<rect x="271" y="263" width="1" height="24" fill="#ff3c00"/>
<rect x="275" y="257" width="1" height="24" fill="#32cd32"/>
<rect x="274" y="262" width="3" height="10" fill="#22c822"/>
<rect x="275" y="263" width="1" height="8" fill="#32cd32"/>
<rect x="279" y="238" width="1" height="37" fill="#ff0000"/>
<rect x="278" y="247" width="3" height="25" fill="#ff0000"/>
<rect x="279" y="248" width="1" height="23" fill="#ff3c00"/>
<rect x="283" y="245" width="1" height="10" fill="#32cd32"/>
<rect x="282" y="246" width="3" height="8" fill="#22c822"/>
<rect x="283" y="247" width="1" height="6" fill="#32cd32"/>
<rect x="287" y="233" width="1" height="18" fill="#ff0000"/>
<rect x="286" y="245" width="3" height="3" fill="#ff0000"/>
<rect x="287" y="246" width="1" height="1" fill="#ff3c00"/>
<rect x="291" y="231" width="1" height="19" fill="#32cd32"/>
<rect x="290" y="246" width="3" height="1" fill="#22c822"/>
<rect x="295" y="225" width="1" height="29" fill="#ff0000"/>
<rect x="294" y="225" width="3" height="21" fill="#ff0000"/>
<rect x="295" y="226" width="1" height="19" fill="#ff3c00"/>
<rect x="299" y="195" width="1" height="70" fill="#32cd32"/>
<rect x="298" y="225" width="3" height="35" fill="#22c822"/>
<rect x="299" y="226" width="1" height="33" fill="#32cd32"/>
<rect x="303" y="235" width="1" height="29" fill="#ff0000"/>
<rect x="302" y="240" width="3" height="20" fill="#ff0000"/>
<rect x="303" y="241" width="1" height="18" fill="#ff3c00"/>
<rect x="307" y="235" width="1" height="6" fill="#ff0000"/>
<rect x="306" y="235" width="3" height="6" fill="#ff0000"/>
<rect x="307" y="236" width="1" height="4" fill="#ff3c00"/>
<rect x="311" y="225" width="1" height="30" fill="#ff0000"/>
<rect x="310" y="230" width="3" height="5" fill="#ff0000"/>
<rect x="311" y="231" width="1" height="3" fill="#ff3c00"/>
<rect x="315" y="220" width="1" height="20" fill="#32cd32"/>
<rect x="314" y="230" width="3" height="5" fill="#22c822"/>
<rect x="315" y="231" width="1" height="3" fill="#32cd32"/>
<rect x="319" y="202" width="1" height="37" fill="#ff0000"/>
<rect x="318" y="215" width="3" height="19" fill="#ff0000"/>
<rect x="319" y="216" width="1" height="17" fill="#ff3c00"/>
<rect x="323" y="202" width="1" height="37" fill="#ff0000"/>
<rect x="322" y="207" width="3" height="9" fill="#ff0000"/>
<rect x="323" y="208" width="1" height="7" fill="#ff3c00"/>
<rect x="327" y="202" width="1" height="27" fill="#32cd32"/>
<rect x="326" y="208" width="3" height="1" fill="#22c822"/>
<rect x="331" y="206" width="1" height="7" fill="#32cd32"/>
<rect x="330" y="207" width="3" height="5" fill="#22c822"/>
<rect x="331" y="208" width="1" height="3" fill="#32cd32"/>
<rect x="335" y="206" width="1" height="39" fill="#ff0000"/>
<rect x="334" y="213" width="3" height="14" fill="#ff0000"/>
<rect x="335" y="214" width="1" height="12" fill="#ff3c00"/>
<rect x="339" y="209" width="1" height="32" fill="#32cd32"/>
<rect x="338" y="214" width="3" height="15" fill="#22c822"/>
<rect x="339" y="215" width="1" height="13" fill="#32cd32"/>
<rect x="343" y="222" width="1" height="44" fill="#32cd32"/>
<rect x="342" y="228" width="3" height="32" fill="#22c822"/>
<rect x="343" y="229" width="1" height="30" fill="#32cd32"/>
<rect x="347" y="258" width="1" height="52" fill="#32cd32"/>
<rect x="346" y="260" width="3" height="36" fill="#22c822"/>
<rect x="347" y="261" width="1" height="34" fill="#32cd32"/>
<rect x="351" y="288" width="1" height="38" fill="#32cd32"/>
<rect x="350" y="294" width="3" height="29" fill="#22c822"/>
<rect x="351" y="295" width="1" height="27" fill="#32cd32"/>
<rect x="355" y="317" width="1" height="9" fill="#32cd32"/>
<rect x="354" y="322" width="3" height="3" fill="#22c822"/>
<rect x="355" y="323" width="1" height="1" fill="#32cd32"/>
<rect x="359" y="315" width="1" height="36" fill="#32cd32"/>
<rect x="358" y="319" width="3" height="14" fill="#22c822"/>
<rect x="359" y="320" width="1" height="12" fill="#32cd32"/>
<rect x="363" y="306" width="1" height="29" fill="#ff0000"/>
<rect x="362" y="307" width="3" height="26" fill="#ff0000"/>
<rect x="363" y="308" width="1" height="24" fill="#ff3c00"/>
<rect x="367" y="297" width="1" height="52" fill="#32cd32"/>
<rect x="366" y="307" width="3" height="22" fill="#22c822"/>
<rect x="367" y="308" width="1" height="20" fill="#32cd32"/>
<rect x="371" y="306" width="1" height="62" fill="#32cd32"/>
<rect x="370" y="329" width="3" height="26" fill="#22c822"/>
<rect x="371" y="330" width="1" height="24" fill="#32cd32"/>
<rect x="375" y="345" width="1" height="28" fill="#32cd32"/>
<rect x="374" y="355" width="3" height="11" fill="#22c822"/>
<rect x="375" y="356" width="1" height="9" fill="#32cd32"/>
<rect x="379" y="358" width="1" height="13" fill="#32cd32"/>
<rect x="378" y="365" width="3" height="1" fill="#22c822"/>
<rect x="383" y="330" width="1" height="48" fill="#ff0000"/>
<rect x="382" y="334" width="3" height="39" fill="#ff0000"/>
<rect x="383" y="335" width="1" height="37" fill="#ff3c00"/>
<rect x="387" y="318" width="1" height="19" fill="#ff0000"/>
<rect x="386" y="328" width="3" height="7" fill="#ff0000"/>
<rect x="387" y="329" width="1" height="5" fill="#ff3c00"/>
<rect x="391" y="301" width="1" height="29" fill="#ff0000"/>
<rect x="390" y="308" width="3" height="21" fill="#ff0000"/>
<rect x="391" y="309" width="1" height="19" fill="#ff3c00"/>
<rect x="395" y="284" width="1" height="51" fill="#ff0000"/>
<rect x="394" y="292" width="3" height="17" fill="#ff0000"/>
<rect x="395" y="293" width="1" height="15" fill="#ff3c00"/>
<rect x="399" y="277" width="1" height="23" fill="#32cd32"/>
<rect x="398" y="291" width="3" height="7" fill="#22c822"/>
<rect x="399" y="292" width="1" height="5" fill="#32cd32"/>
<rect x="403" y="287" width="1" height="10" fill="#ff0000"/>
<rect x="402" y="288" width="3" height="8" fill="#ff0000"/>
<rect x="403" y="289" width="1" height="6" fill="#ff3c00"/>
<rect x="407" y="280" width="1" height="31" fill="#32cd32"/>
<rect x="406" y="285" width="3" height="20" fill="#22c822"/>
<rect x="407" y="286" width="1" height="18" fill="#32cd32"/>
<rect x="411" y="302" width="1" height="27" fill="#32cd32"/>
<rect x="410" y="305" width="3" height="9" fill="#22c822"/>
<rect x="411" y="306" width="1" height="7" fill="#32cd32"/>
<rect x="415" y="304" width="1" height="24" fill="#32cd32"/>
<rect x="414" y="314" width="3" height="2" fill="#22c822"/>
<rect x="419" y="272" width="1" height="50" fill="#ff0000"/>
<rect x="418" y="288" width="3" height="30" fill="#ff0000"/>
<rect x="419" y="289" width="1" height="28" fill="#ff3c00"/>
<rect x="423" y="276" width="1" height="29" fill="#ff0000"/>
<rect x="422" y="278" width="3" height="10" fill="#ff0000"/>
<rect x="423" y="279" width="1" height="8" fill="#ff3c00"/>
<rect x="427" y="278" width="1" height="5" fill="#32cd32"/>
<rect x="426" y="278" width="3" height="5" fill="#22c822"/>
<rect x="427" y="279" width="1" height="3" fill="#32cd32"/>
<rect x="431" y="257" width="1" height="23" fill="#ff0000"/>
<rect x="430" y="263" width="3" height="12" fill="#ff0000"/>
<rect x="431" y="264" width="1" height="10" fill="#ff3c00"/>
<rect x="435" y="257" width="1" height="24" fill="#32cd32"/>
<rect x="434" y="263" width="3" height="12" fill="#22c822"/>
<rect x="435" y="264" width="1" height="10" fill="#32cd32"/>
<rect x="439" y="257" width="1" height="28" fill="#ff0000"/>
<rect x="438" y="266" width="3" height="9" fill="#ff0000"/>
<rect x="439" y="267" width="1" height="7" fill="#ff3c00"/>
<rect x="443" y="235" width="1" height="32" fill="#ff0000"/>
<rect x="442" y="239" width="3" height="27" fill="#ff0000"/>
<rect x="443" y="240" width="1" height="25" fill="#ff3c00"/>
<rect x="447" y="228" width="1" height="15" fill="#ff0000"/>
<rect x="446" y="231" width="3" height="9" fill="#ff0000"/>
<rect x="447" y="232" width="1" height="7" fill="#ff3c00"/>
<rect x="451" y="230" width="1" height="3" fill="#ff0000"/>
<rect x="450" y="230" width="3" height="2" fill="#ff0000"/>
<rect x="455" y="214" width="1" height="47" fill="#32cd32"/>
<rect x="454" y="218" width="3" height="37" fill="#22c822"/>
<rect x="455" y="219" width="1" height="35" fill="#32cd32"/>
<rect x="459" y="241" width="1" height="27" fill="#32cd32"/>
<rect x="458" y="254" width="3" height="1" fill="#22c822"/>
<rect x="463" y="233" width="1" height="27" fill="#ff0000"/>
<rect x="462" y="245" width="3" height="10" fill="#ff0000"/>
<rect x="463" y="246" width="1" height="8" fill="#ff3c00"/>
<rect x="467" y="210" width="1" height="41" fill="#ff0000"/>
<rect x="466" y="212" width="3" height="34" fill="#ff0000"/>
<rect x="467" y="213" width="1" height="32" fill="#ff3c00"/>
<rect x="471" y="183" width="1" height="30" fill="#ff0000"/>
<rect x="470" y="189" width="3" height="24" fill="#ff0000"/>
<rect x="471" y="190" width="1" height="22" fill="#ff3c00"/>
<rect x="475" y="189" width="1" height="7" fill="#32cd32"/>
<rect x="474" y="189" width="3" height="7" fill="#22c822"/>
<rect x="475" y="190" width="1" height="5" fill="#32cd32"/>
<rect x="479" y="180" width="1" height="21" fill="#32cd32"/>
<rect x="478" y="189" width="3" height="10" fill="#22c822"/>
<rect x="479" y="190" width="1" height="8" fill="#32cd32"/>
<rect x="483" y="185" width="1" height="14" fill="#ff0000"/>
<rect x="482" y="191" width="3" height="7" fill="#ff0000"/>
<rect x="483" y="192" width="1" height="5" fill="#ff3c00"/>
<rect x="487" y="170" width="1" height="24" fill="#ff0000"/>
<rect x="486" y="173" width="3" height="19" fill="#ff0000"/>
<rect x="487" y="174" width="1" height="17" fill="#ff3c00"/>
<rect x="491" y="173" width="1" height="28" fill="#32cd32"/>
<rect x="490" y="173" width="3" height="24" fill="#22c822"/>
<rect x="491" y="174" width="1" height="22" fill="#32cd32"/>
<rect x="495" y="190" width="1" height="48" fill="#32cd32"/>
<rect x="494" y="197" width="3" height="36" fill="#22c822"/>
<rect x="495" y="198" width="1" height="34" fill="#32cd32"/>
<rect x="499" y="215" width="1" height="21" fill="#ff0000"/>
<rect x="498" y="216" width="3" height="16" fill="#ff0000"/>
<rect x="499" y="217" width="1" height="14" fill="#ff3c00"/>
<rect x="503" y="200" width="1" height="25" fill="#32cd32"/>
<rect x="502" y="212" width="3" height="8" fill="#22c822"/>
<rect x="503" y="213" width="1" height="6" fill="#32cd32"/>
<rect x="507" y="202" width="1" height="25" fill="#ff0000"/>
<rect x="506" y="203" width="3" height="16" fill="#ff0000"/>
<rect x="507" y="204" width="1" height="14" fill="#ff3c00"/>
<rect x="511" y="198" width="1" height="18" fill="#ff0000"/>
<rect x="510" y="201" width="3" height="3" fill="#ff0000"/>
<rect x="511" y="202" width="1" height="1" fill="#ff3c00"/>
<rect x="515" y="193" width="1" height="69" fill="#32cd32"/>
<rect x="514" y="201" width="3" height="55" fill="#22c822"/>
<rect x="515" y="202" width="1" height="53" fill="#32cd32"/>
<rect x="519" y="251" width="1" height="26" fill="#32cd32"/>
<rect x="518" y="255" width="3" height="7" fill="#22c822"/>
<rect x="519" y="256" width="1" height="5" fill="#32cd32"/>
<rect x="523" y="261" width="1" height="9" fill="#32cd32"/>
<rect x="522" y="262" width="3" height="2" fill="#22c822"/>
<rect x="527" y="238" width="1" height="42" fill="#ff0000"/>
<rect x="526" y="244" width="3" height="36" fill="#ff0000"/>
<rect x="527" y="245" width="1" height="34" fill="#ff3c00"/>
<rect x="531" y="240" width="1" height="23" fill="#32cd32"/>
<rect x="530" y="244" width="3" height="11" fill="#22c822"/>
<rect x="531" y="245" width="1" height="9" fill="#32cd32"/>
<rect x="535" y="253" width="1" height="47" fill="#32cd32"/>
<rect x="534" y="254" width="3" height="29" fill="#22c822"/>
<rect x="535" y="255" width="1" height="27" fill="#32cd32"/>
<rect x="539" y="243" width="1" height="72" fill="#ff0000"/>
<rect x="538" y="251" width="3" height="32" fill="#ff0000"/>
<rect x="539" y="252" width="1" height="30" fill="#ff3c00"/>
<rect x="543" y="219" width="1" height="34" fill="#ff0000"/>
<rect x="542" y="233" width="3" height="19" fill="#ff0000"/>
<rect x="543" y="234" width="1" height="17" fill="#ff3c00"/>
<rect x="547" y="230" width="1" height="6" fill="#ff0000"/>
<rect x="546" y="230" width="3" height="4" fill="#ff0000"/>
<rect x="547" y="231" width="1" height="2" fill="#ff3c00"/>
<rect x="551" y="221" width="1" height="25" fill="#32cd32"/>
<rect x="550" y="230" width="3" height="9" fill="#22c822"/>
<rect x="551" y="231" width="1" height="7" fill="#32cd32"/>
<rect x="555" y="222" width="1" height="17" fill="#ff0000"/>
<rect x="554" y="224" width="3" height="14" fill="#ff0000"/>
<rect x="555" y="225" width="1" height="12" fill="#ff3c00"/>
<rect x="559" y="212" width="1" height="18" fill="#ff0000"/>
<rect x="558" y="213" width="3" height="12" fill="#ff0000"/>
<rect x="559" y="214" width="1" height="10" fill="#ff3c00"/>
<rect x="563" y="207" width="1" height="23" fill="#32cd32"/>
<rect x="562" y="214" width="3" height="5" fill="#22c822"/>
<rect x="563" y="215" width="1" height="3" fill="#32cd32"/>
<rect x="567" y="209" width="1" height="32" fill="#ff0000"/>
<rect x="566" y="209" width="3" height="10" fill="#ff0000"/>
<rect x="567" y="210" width="1" height="8" fill="#ff3c00"/>
<rect x="571" y="206" width="1" height="6" fill="#32cd32"/>
<rect x="570" y="209" width="3" height="3" fill="#22c822"/>
<rect x="571" y="210" width="1" height="1" fill="#32cd32"/>
<rect x="575" y="201" width="1" height="17" fill="#ff0000"/>
<rect x="574" y="205" width="3" height="9" fill="#ff0000"/>
<rect x="575" y="206" width="1" height="7" fill="#ff3c00"/>
<rect x="579" y="195" width="1" height="11" fill="#ff0000"/>
<rect x="578" y="195" width="3" height="11" fill="#ff0000"/>
<rect x="579" y="196" width="1" height="9" fill="#ff3c00"/>
<rect x="583" y="190" width="1" height="23" fill="#32cd32"/>
<rect x="582" y="195" width="3" height="8" fill="#22c822"/>
<rect x="583" y="196" width="1" height="6" fill="#32cd32"/>
<rect x="587" y="195" width="1" height="30" fill="#32cd32"/>
<rect x="586" y="202" width="3" height="8" fill="#22c822"/>
<rect x="587" y="203" width="1" height="6" fill="#32cd32"/>
<rect x="591" y="199" width="1" height="18" fill="#ff0000"/>
<rect x="590" y="203" width="3" height="7" fill="#ff0000"/>
<rect x="591" y="204" width="1" height="5" fill="#ff3c00"/>
<rect x="595" y="200" width="1" height="5" fill="#ff0000"/>
<rect x="594" y="202" width="3" height="2" fill="#ff0000"/>
<rect x="599" y="207" width="1" height="13" fill="#32cd32"/>
<rect x="598" y="212" width="3" height="1" fill="#22c822"/>
<rect x="603" y="212" width="1" height="17" fill="#32cd32"/>
<rect x="602" y="212" width="3" height="5" fill="#22c822"/>
<rect x="603" y="213" width="1" height="3" fill="#32cd32"/>
<rect x="607" y="195" width="1" height="23" fill="#ff0000"/>
<rect x="606" y="197" width="3" height="20" fill="#ff0000"/>
<rect x="607" y="198" width="1" height="18" fill="#ff3c00"/>
<rect x="611" y="186" width="1" height="24" fill="#32cd32"/>
<rect x="610" y="197" width="3" height="5" fill="#22c822"/>
<rect x="611" y="198" width="1" height="3" fill="#32cd32"/>
<rect x="615" y="194" width="1" height="18" fill="#ff0000"/>
<rect x="614" y="198" width="3" height="4" fill="#ff0000"/>
<rect x="615" y="199" width="1" height="2" fill="#ff3c00"/>
<rect x="619" y="196" width="1" height="8" fill="#ff0000"/>
<rect x="618" y="196" width="3" height="2" fill="#ff0000"/>
<rect x="623" y="181" width="1" height="15" fill="#ff0000"/>
<rect x="622" y="182" width="3" height="13" fill="#ff0000"/>
<rect x="623" y="183" width="1" height="11" fill="#ff3c00"/>
<rect x="627" y="181" width="1" height="13" fill="#32cd32"/>
<rect x="626" y="182" width="3" height="4" fill="#22c822"/>
<rect x="627" y="183" width="1" height="2" fill="#32cd32"/>
<rect x="631" y="176" width="1" height="14" fill="#ff0000"/>
<rect x="630" y="184" width="3" height="2" fill="#ff0000"/>
<rect x="635" y="182" width="1" height="27" fill="#32cd32"/>
<rect x="634" y="184" width="3" height="24" fill="#22c822"/>
<rect x="635" y="185" width="1" height="22" fill="#32cd32"/>
<rect x="639" y="188" width="1" height="22" fill="#ff0000"/>
<rect x="638" y="189" width="3" height="19" fill="#ff0000"/>
<rect x="639" y="190" width="1" height="17" fill="#ff3c00"/>
<rect x="643" y="188" width="1" height="3" fill="#32cd32"/>
<rect x="642" y="189" width="3" height="2" fill="#22c822"/>
<rect x="647" y="184" width="1" height="13" fill="#ff0000"/>
<rect x="646" y="188" width="3" height="2" fill="#ff0000"/>
<rect x="651" y="182" width="1" height="14" fill="#ff0000"/>
<rect x="650" y="183" width="3" height="7" fill="#ff0000"/>
<rect x="651" y="184" width="1" height="5" fill="#ff3c00"/>
<rect x="655" y="180" width="1" height="6" fill="#32cd32"/>
<rect x="654" y="182" width="3" height="3" fill="#22c822"/>
<rect x="655" y="183" width="1" height="1" fill="#32cd32"/>
<rect x="659" y="146" width="1" height="45" fill="#ff0000"/>
<rect x="658" y="149" width="3" height="35" fill="#ff0000"/>
<rect x="659" y="150" width="1" height="33" fill="#ff3c00"/>
<rect x="663" y="137" width="1" height="14" fill="#ff0000"/>
<rect x="662" y="148" width="3" height="2" fill="#ff0000"/>
<rect x="667" y="141" width="1" height="10" fill="#ff0000"/>
<rect x="666" y="143" width="3" height="6" fill="#ff0000"/>
<rect x="667" y="144" width="1" height="4" fill="#ff3c00"/>
<rect x="671" y="135" width="1" height="15" fill="#32cd32"/>
<rect x="670" y="144" width="3" height="1" fill="#22c822"/>
<rect x="675" y="140" width="1" height="11" fill="#ff0000"/>
<rect x="674" y="141" width="3" height="5" fill="#ff0000"/>
<rect x="675" y="142" width="1" height="3" fill="#ff3c00"/>
<rect x="679" y="126" width="1" height="29" fill="#32cd32"/>
<rect x="678" y="141" width="3" height="9" fill="#22c822"/>
<rect x="679" y="142" width="1" height="7" fill="#32cd32"/>
<rect x="683" y="127" width="1" height="30" fill="#ff0000"/>
<rect x="682" y="128" width="3" height="22" fill="#ff0000"/>
<rect x="683" y="129" width="1" height="20" fill="#ff3c00"/>
<rect x="687" y="112" width="1" height="21" fill="#ff0000"/>
<rect x="686" y="117" width="3" height="12" fill="#ff0000"/>
<rect x="687" y="118" width="1" height="10" fill="#ff3c00"/>
<rect x="691" y="154" width="1" height="21" fill="#ff0000"/>
<rect x="690" y="160" width="3" height="7" fill="#ff0000"/>
<rect x="691" y="161" width="1" height="5" fill="#ff3c00"/>
<rect x="695" y="156" width="1" height="12" fill="#32cd32"/>
<rect x="694" y="160" width="3" height="2" fill="#22c822"/>
<rect x="699" y="156" width="1" height="12" fill="#ff0000"/>
<rect x="698" y="159" width="3" height="2" fill="#ff0000"/>
<rect x="703" y="152" width="1" height="12" fill="#ff0000"/>
<rect x="702" y="153" width="3" height="7" fill="#ff0000"/>
<rect x="703" y="154" width="1" height="5" fill="#ff3c00"/>
<rect x="707" y="151" width="1" height="4" fill="#ff0000"/>
<rect x="706" y="151" width="3" height="3" fill="#ff0000"/>
<rect x="707" y="152" width="1" height="1" fill="#ff3c00"/>
<rect x="711" y="122" width="1" height="23" fill="#ff0000"/>
<rect x="710" y="123" width="3" height="8" fill="#ff0000"/>
<rect x="711" y="124" width="1" height="6" fill="#ff3c00"/>
<rect x="715" y="106" width="1" height="19" fill="#ff0000"/>
<rect x="714" y="109" width="3" height="15" fill="#ff0000"/>
<rect x="715" y="110" width="1" height="13" fill="#ff3c00"/>
<rect x="719" y="106" width="1" height="20" fill="#32cd32"/>
<rect x="718" y="109" width="3" height="7" fill="#22c822"/>
<rect x="719" y="110" width="1" height="5" fill="#32cd32"/>
<rect x="723" y="97" width="1" height="49" fill="#32cd32"/>
<rect x="722" y="115" width="3" height="23" fill="#22c822"/>
<rect x="723" y="116" width="1" height="21" fill="#32cd32"/>
<rect x="727" y="124" width="1" height="55" fill="#32cd32"/>
<rect x="726" y="138" width="3" height="26" fill="#22c822"/>
<rect x="727" y="139" width="1" height="24" fill="#32cd32"/>
<rect x="731" y="160" width="1" height="9" fill="#ff0000"/>
<rect x="730" y="162" width="3" height="2" fill="#ff0000"/>
<rect x="735" y="155" width="1" height="16" fill="#32cd32"/>
<rect x="734" y="163" width="3" height="3" fill="#22c822"/>
<rect x="735" y="164" width="1" height="1" fill="#32cd32"/>
<rect x="739" y="140" width="1" height="35" fill="#ff0000"/>
<rect x="738" y="143" width="3" height="23" fill="#ff0000"/>
<rect x="739" y="144" width="1" height="21" fill="#ff3c00"/>
<rect x="743" y="139" width="1" height="20" fill="#32cd32"/>
<rect x="742" y="143" width="3" height="15" fill="#22c822"/>
<rect x="743" y="144" width="1" height="13" fill="#32cd32"/>
<rect x="747" y="129" width="1" height="29" fill="#ff0000"/>
<rect x="746" y="148" width="3" height="10" fill="#ff0000"/>
<rect x="747" y="149" width="1" height="8" fill="#ff3c00"/>
<rect x="751" y="136" width="1" height="33" fill="#32cd32"/>
<rect x="750" y="148" width="3" height="18" fill="#22c822"/>
<rect x="751" y="149" width="1" height="16" fill="#32cd32"/>
<rect x="755" y="166" width="1" height="6" fill="#32cd32"/>
<rect x="754" y="166" width="3" height="4" fill="#22c822"/>
<rect x="755" y="167" width="1" height="2" fill="#32cd32"/>
<rect x="759" y="185" width="1" height="28" fill="#32cd32"/>
<rect x="758" y="185" width="3" height="7" fill="#22c822"/>
<rect x="759" y="186" width="1" height="5" fill="#32cd32"/>
<rect x="763" y="181" width="1" height="18" fill="#32cd32"/>
<rect x="762" y="191" width="3" height="5" fill="#22c822"/>
<rect x="763" y="192" width="1" height="3" fill="#32cd32"/>
<rect x="767" y="193" width="1" height="18" fill="#32cd32"/>
<rect x="766" y="196" width="3" height="10" fill="#22c822"/>
<rect x="767" y="197" width="1" height="8" fill="#32cd32"/>
<rect x="771" y="140" width="1" height="78" fill="#ff0000"/>
<rect x="770" y="144" width="3" height="62" fill="#ff0000"/>
<rect x="771" y="145" width="1" height="60" fill="#ff3c00"/>
<rect x="775" y="134" width="1" height="13" fill="#ff0000"/>
<rect x="774" y="138" width="3" height="7" fill="#ff0000"/>
<rect x="775" y="139" width="1" height="5" fill="#ff3c00"/>
<rect x="779" y="130" width="1" height="9" fill="#ff0000"/>
<rect x="778" y="134" width="3" height="5" fill="#ff0000"/>
<rect x="779" y="135" width="1" height="3" fill="#ff3c00"/>
<rect x="783" y="135" width="1" height="11" fill="#32cd32"/>
<rect x="782" y="135" width="3" height="10" fill="#22c822"/>
<rect x="783" y="136" width="1" height="8" fill="#32cd32"/>
<rect x="787" y="139" width="1" height="22" fill="#32cd32"/>
<rect x="786" y="144" width="3" height="17" fill="#22c822"/>
<rect x="787" y="145" width="1" height="15" fill="#32cd32"/>
<rect x="791" y="143" width="1" height="24" fill="#ff0000"/>
<rect x="790" y="149" width="3" height="12" fill="#ff0000"/>
<rect x="791" y="150" width="1" height="10" fill="#ff3c00"/>
<rect x="795" y="107" width="1" height="45" fill="#ff0000"/>
<rect x="794" y="118" width="3" height="32" fill="#ff0000"/>
<rect x="795" y="119" width="1" height="30" fill="#ff3c00"/>
<rect x="799" y="87" width="1" height="34" fill="#ff0000"/>
<rect x="798" y="90" width="3" height="29" fill="#ff0000"/>
<rect x="799" y="91" width="1" height="27" fill="#ff3c00"/>
<rect x="803" y="88" width="1" height="3" fill="#ff0000"/>
<rect x="802" y="90" width="3" height="1" fill="#ff0000"/>
<rect x="807" y="87" width="1" height="27" fill="#32cd32"/>
<rect x="806" y="90" width="3" height="10" fill="#22c822"/>
<rect x="807" y="91" width="1" height="8" fill="#32cd32"/>
<rect x="811" y="99" width="1" height="11" fill="#32cd32"/>
<rect x="810" y="100" width="3" height="3" fill="#22c822"/>
<rect x="811" y="101" width="1" height="1" fill="#32cd32"/>
<rect x="815" y="97" width="1" height="17" fill="#32cd32"/>
<rect x="814" y="102" width="3" height="8" fill="#22c822"/>
<rect x="815" y="103" width="1" height="6" fill="#32cd32"/>
<rect x="819" y="98" width="1" height="29" fill="#32cd32"/>
<rect x="818" y="108" width="3" height="7" fill="#22c822"/>
<rect x="819" y="109" width="1" height="5" fill="#32cd32"/>
<rect x="823" y="108" width="1" height="15" fill="#32cd32"/>
<rect x="822" y="114" width="3" height="4" fill="#22c822"/>
<rect x="823" y="115" width="1" height="2" fill="#32cd32"/>
<rect x="827" y="103" width="1" height="16" fill="#ff0000"/>
<rect x="826" y="103" width="3" height="15" fill="#ff0000"/>
<rect x="827" y="104" width="1" height="13" fill="#ff3c00"/>
<rect x="831" y="101" width="1" height="17" fill="#ff0000"/>
<rect x="830" y="105" width="3" height="5" fill="#ff0000"/>
<rect x="831" y="106" width="1" height="3" fill="#ff3c00"/>
<rect x="835" y="101" width="1" height="14" fill="#32cd32"/>
<rect x="834" y="105" width="3" height="3" fill="#22c822"/>
<rect x="835" y="106" width="1" height="1" fill="#32cd32"/>
<rect x="839" y="103" width="1" height="25" fill="#32cd32"/>
<rect x="838" y="107" width="3" height="15" fill="#22c822"/>
<rect x="839" y="108" width="1" height="13" fill="#32cd32"/>
<rect x="843" y="91" width="1" height="34" fill="#ff0000"/>
<rect x="842" y="99" width="3" height="23" fill="#ff0000"/>
<rect x="843" y="100" width="1" height="21" fill="#ff3c00"/>
<rect x="847" y="88" width="1" height="42" fill="#ff0000"/>
<rect x="846" y="92" width="3" height="8" fill="#ff0000"/>
<rect x="847" y="93" width="1" height="6" fill="#ff3c00"/>
<rect x="851" y="92" width="1" height="8" fill="#32cd32"/>
<rect x="850" y="93" width="3" height="5" fill="#22c822"/>
<rect x="851" y="94" width="1" height="3" fill="#32cd32"/>
<rect x="855" y="90" width="1" height="11" fill="#ff0000"/>
<rect x="854" y="97" width="3" height="4" fill="#ff0000"/>
<rect x="855" y="98" width="1" height="2" fill="#ff3c00"/>
<rect x="859" y="88" width="1" height="11" fill="#ff0000"/>
<rect x="858" y="92" width="3" height="6" fill="#ff0000"/>
<rect x="859" y="93" width="1" height="4" fill="#ff3c00"/>
<rect x="863" y="74" width="1" height="26" fill="#ff0000"/>
<rect x="862" y="83" width="3" height="10" fill="#ff0000"/>
<rect x="863" y="84" width="1" height="8" fill="#ff3c00"/>
<rect x="867" y="63" width="1" height="32" fill="#ff0000"/>
<rect x="866" y="64" width="3" height="20" fill="#ff0000"/>
<rect x="867" y="65" width="1" height="18" fill="#ff3c00"/>
<rect x="871" y="45" width="1" height="20" fill="#ff0000"/>
<rect x="870" y="48" width="3" height="16" fill="#ff0000"/>
<rect x="871" y="49" width="1" height="14" fill="#ff3c00"/>
<rect x="875" y="48" width="1" height="5" fill="#32cd32"/>
<rect x="874" y="48" width="3" height="5" fill="#22c822"/>
<rect x="875" y="49" width="1" height="3" fill="#32cd32"/>
<rect x="879" y="45" width="1" height="15" fill="#ff0000"/>
<rect x="878" y="52" width="3" height="4" fill="#ff0000"/>
<rect x="879" y="53" width="1" height="2" fill="#ff3c00"/>
<rect x="883" y="49" width="1" height="18" fill="#32cd32"/>
<rect x="882" y="51" width="3" height="10" fill="#22c822"/>
<rect x="883" y="52" width="1" height="8" fill="#32cd32"/>
<rect x="887" y="54" width="1" height="12" fill="#ff0000"/>
<rect x="886" y="58" width="3" height="3" fill="#ff0000"/>
<rect x="887" y="59" width="1" height="1" fill="#ff3c00"/>
<rect x="891" y="53" width="1" height="20" fill="#ff0000"/>
<rect x="890" y="58" width="3" height="1" fill="#ff0000"/>
<rect x="895" y="56" width="1" height="15" fill="#32cd32"/>
<rect x="894" y="58" width="3" height="8" fill="#22c822"/>
<rect x="895" y="59" width="1" height="6" fill="#32cd32"/>
<rect x="899" y="64" width="1" height="6" fill="#32cd32"/>
<rect x="898" y="65" width="3" height="2" fill="#22c822"/>
<rect x="903" y="66" width="1" height="20" fill="#32cd32"/>
<rect x="902" y="66" width="3" height="10" fill="#22c822"/>
<rect x="903" y="67" width="1" height="8" fill="#32cd32"/>
<rect x="907" y="66" width="1" height="12" fill="#ff0000"/>
<rect x="906" y="75" width="3" height="1" fill="#ff0000"/>
<rect x="911" y="46" width="1" height="30" fill="#ff0000"/>
<rect x="910" y="50" width="3" height="26" fill="#ff0000"/>
<rect x="911" y="51" width="1" height="24" fill="#ff3c00"/>
<rect x="915" y="46" width="1" height="66" fill="#32cd32"/>
<rect x="914" y="50" width="3" height="45" fill="#22c822"/>
<rect x="915" y="51" width="1" height="43" fill="#32cd32"/>
<rect x="919" y="74" width="1" height="26" fill="#ff0000"/>
<rect x="918" y="81" width="3" height="14" fill="#ff0000"/>
<rect x="919" y="82" width="1" height="12" fill="#ff3c00"/>
<rect x="923" y="80" width="1" height="6" fill="#32cd32"/>
<rect x="922" y="81" width="3" height="5" fill="#22c822"/>
<rect x="923" y="82" width="1" height="3" fill="#32cd32"/>
</g>
<rect x="1159" y="119" width="6" height="6" fill="#ff0000"/><rect x="1161" y="121" width="2" height="2" fill="#fff"/>
<rect x="2" y="119" width="6" height="6" fill="#ff0000"/><rect x="4" y="121" width="2" height="2" fill="#fff"/>
<rect x="1159" y="176" width="6" height="6" fill="#00ff00"/><rect x="1161" y="178" width="2" height="2" fill="#fff"/>
<rect x="2" y="176" width="6" height="6" fill="#00ff00"/><rect x="4" y="178" width="2" height="2" fill="#fff"/>
<g clip-path="url(#cd)">
<rect x="2" y="420" width="3" height="35" fill="#c0c0c0"/>
<rect x="6" y="422" width="3" height="33" fill="#c0c0c0"/>
<rect x="10" y="426" width="3" height="29" fill="#c0c0c0"/>
<rect x="14" y="431" width="3" height="24" fill="#c0c0c0"/>
<rect x="18" y="437" width="3" height="18" fill="#c0c0c0"/>
<rect x="22" y="441" width="3" height="14" fill="#c0c0c0"/>
<rect x="26" y="444" width="3" height="11" fill="#c0c0c0"/>
<rect x="30" y="446" width="3" height="9" fill="#c0c0c0"/>
<rect x="34" y="447" width="3" height="8" fill="#c0c0c0"/>
<rect x="38" y="452" width="3" height="3" fill="#c0c0c0"/>
<rect x="42" y="454" width="3" height="1" fill="#c0c0c0"/>
<rect x="46" y="455" width="3" height="2" fill="#c0c0c0"/>
<rect x="50" y="455" width="3" height="2" fill="#c0c0c0"/>
<rect x="54" y="455" width="3" height="1" fill="#c0c0c0"/>
<rect x="58" y="455" width="3" height="2" fill="#c0c0c0"/>
<rect x="62" y="455" width="3" height="1" fill="#c0c0c0"/>
<rect x="66" y="455" width="3" height="1" fill="#c0c0c0"/>
<rect x="70" y="455" width="3" height="1" fill="#c0c0c0"/>
<rect x="74" y="455" width="3" height="2" fill="#c0c0c0"/>
<rect x="78" y="455" width="3" height="2" fill="#c0c0c0"/>
<rect x="82" y="455" width="3" height="2" fill="#c0c0c0"/>
<rect x="86" y="455" width="3" height="5" fill="#c0c0c0"/>
<rect x="90" y="455" width="3" height="7" fill="#c0c0c0"/>
<rect x="94" y="455" width="3" height="8" fill="#c0c0c0"/>
<rect x="98" y="455" width="3" height="11" fill="#c0c0c0"/>
<rect x="102" y="455" width="3" height="15" fill="#c0c0c0"/>
<rect x="106" y="455" width="3" height="20" fill="#c0c0c0"/>
<rect x="110" y="455" width="3" height="24" fill="#c0c0c0"/>
<rect x="114" y="455" width="3" height="24" fill="#c0c0c0"/>
<rect x="118" y="455" width="3" height="24" fill="#c0c0c0"/>
<rect x="122" y="455" width="3" height="23" fill="#c0c0c0"/>
<rect x="126" y="455" width="3" height="24" fill="#c0c0c0"/>
<rect x="130" y="455" width="3" height="23" fill="#c0c0c0"/>
<rect x="134" y="455" width="3" height="19" fill="#c0c0c0"/>
<rect x="138" y="455" width="3" height="17" fill="#c0c0c0"/>
<rect x="142" y="455" width="3" height="14" fill="#c0c0c0"/>
<rect x="146" y="455" width="3" height="13" fill="#c0c0c0"/>
<rect x="150" y="455" width="3" height="11" fill="#c0c0c0"/>
<rect x="154" y="455" width="3" height="10" fill="#c0c0c0"/>
<rect x="158" y="455" width="3" height="9" fill="#c0c0c0"/>
<rect x="162" y="455" width="3" height="8" fill="#c0c0c0"/>
<rect x="166" y="455" width="3" height="9" fill="#c0c0c0"/>
<rect x="170" y="455" width="3" height="7" fill="#c0c0c0"/>
<rect x="174" y="455" width="3" height="7" fill="#c0c0c0"/>
<rect x="178" y="455" width="3" height="5" fill="#c0c0c0"/>
<rect x="182" y="455" width="3" height="1" fill="#c0c0c0"/>
<rect x="186" y="453" width="3" height="2" fill="#c0c0c0"/>
<rect x="190" y="451" width="3" height="4" fill="#c0c0c0"/>
<rect x="194" y="448" width="3" height="7" fill="#c0c0c0"/>
<rect x="198" y="446" width="3" height="9" fill="#c0c0c0"/>
<rect x="202" y="444" width="3" height="11" fill="#c0c0c0"/>
<rect x="206" y="445" width="3" height="10" fill="#c0c0c0"/>
<rect x="210" y="446" width="3" height="9" fill="#c0c0c0"/>
<rect x="214" y="447" width="3" height="8" fill="#c0c0c0"/>
<rect x="218" y="448" width="3" height="7" fill="#c0c0c0"/>
<rect x="222" y="452" width="3" height="3" fill="#c0c0c0"/>
<rect x="226" y="452" width="3" height="3" fill="#c0c0c0"/>
<rect x="230" y="450" width="3" height="5" fill="#c0c0c0"/>
<rect x="234" y="448" width="3" height="7" fill="#c0c0c0"/>
<rect x="238" y="449" width="3" height="6" fill="#c0c0c0"/>
<rect x="242" y="450" width="3" height="5" fill="#c0c0c0"/>
<rect x="246" y="450" width="3" height="5" fill="#c0c0c0"/>
<rect x="250" y="451" width="3" height="4" fill="#c0c0c0"/>
<rect x="254" y="452" width="3" height="3" fill="#c0c0c0"/>
<rect x="258" y="453" width="3" height="2" fill="#c0c0c0"/>
<rect x="262" y="454" width="3" height="1" fill="#c0c0c0"/>
<rect x="266" y="453" width="3" height="2" fill="#c0c0c0"/>
<rect x="270" y="450" width="3" height="5" fill="#c0c0c0"/>
<rect x="274" y="448" width="3" height="7" fill="#c0c0c0"/>
<rect x="278" y="445" width="3" height="10" fill="#c0c0c0"/>
<rect x="282" y="444" width="3" height="11" fill="#c0c0c0"/>
<rect x="286" y="442" width="3" height="13" fill="#c0c0c0"/>
<rect x="290" y="440" width="3" height="15" fill="#c0c0c0"/>
<rect x="294" y="438" width="3" height="17" fill="#c0c0c0"/>
<rect x="298" y="439" width="3" height="16" fill="#c0c0c0"/>
<rect x="302" y="438" width="3" height="17" fill="#c0c0c0"/>
<rect x="306" y="438" width="3" height="17" fill="#c0c0c0"/>
<rect x="310" y="437" width="3" height="18" fill="#c0c0c0"/>
<rect x="314" y="437" width="3" height="18" fill="#c0c0c0"/>
<rect x="318" y="436" width="3" height="19" fill="#c0c0c0"/>
<rect x="322" y="434" width="3" height="21" fill="#c0c0c0"/>
<rect x="326" y="434" width="3" height="21" fill="#c0c0c0"/>
<rect x="330" y="434" width="3" height="21" fill="#c0c0c0"/>
<rect x="334" y="434" width="3" height="21" fill="#c0c0c0"/>
<rect x="338" y="436" width="3" height="19" fill="#c0c0c0"/>
<rect x="342" y="440" width="3" height="15" fill="#c0c0c0"/>
<rect x="346" y="446" width="3" height="9" fill="#c0c0c0"/>
<rect x="350" y="452" width="3" height="3" fill="#c0c0c0"/>
<rect x="354" y="455" width="3" height="4" fill="#c0c0c0"/>
<rect x="358" y="455" width="3" height="9" fill="#c0c0c0"/>
<rect x="362" y="455" width="3" height="11" fill="#c0c0c0"/>
<rect x="366" y="455" width="3" height="14" fill="#c0c0c0"/>
<rect x="370" y="455" width="3" height="18" fill="#c0c0c0"/>
<rect x="374" y="455" width="3" height="22" fill="#c0c0c0"/>
<rect x="378" y="455" width="3" height="25" fill="#c0c0c0"/>
<rect x="382" y="455" width="3" height="24" fill="#c0c0c0"/>
<rect x="386" y="455" width="3" height="23" fill="#c0c0c0"/>
<rect x="390" y="455" width="3" height="20" fill="#c0c0c0"/>
<rect x="394" y="455" width="3" height="17" fill="#c0c0c0"/>
<rect x="398" y="455" width="3" height="14" fill="#c0c0c0"/>
<rect x="402" y="455" width="3" height="11" fill="#c0c0c0"/>
<rect x="406" y="455" width="3" height="10" fill="#c0c0c0"/>
<rect x="410" y="455" width="3" height="10" fill="#c0c0c0"/>
<rect x="414" y="455" width="3" height="10" fill="#c0c0c0"/>
<rect x="418" y="455" width="3" height="8" fill="#c0c0c0"/>
<rect x="422" y="455" width="3" height="5" fill="#c0c0c0"/>
<rect x="426" y="455" width="3" height="3" fill="#c0c0c0"/>
<rect x="430" y="454" width="3" height="1" fill="#c0c0c0"/>
<rect x="434" y="453" width="3" height="2" fill="#c0c0c0"/>
<rect x="438" y="451" width="3" height="4" fill="#c0c0c0"/>
<rect x="442" y="448" width="3" height="7" fill="#c0c0c0"/>
<rect x="446" y="445" width="3" height="10" fill="#c0c0c0"/>
<rect x="450" y="442" width="3" height="13" fill="#c0c0c0"/>
<rect x="454" y="442" width="3" height="13" fill="#c0c0c0"/>
<rect x="458" y="443" width="3" height="12" fill="#c0c0c0"/>
<rect x="462" y="442" width="3" height="13" fill="#c0c0c0"/>
<rect x="466" y="439" width="3" height="16" fill="#c0c0c0"/>
<rect x="470" y="436" width="3" height="19" fill="#c0c0c0"/>
<rect x="474" y="434" width="3" height="21" fill="#c0c0c0"/>
<rect x="478" y="432" width="3" height="23" fill="#c0c0c0"/>
<rect x="482" y="431" width="3" height="24" fill="#c0c0c0"/>
<rect x="486" y="429" width="3" height="26" fill="#c0c0c0"/>
<rect x="490" y="429" width="3" height="26" fill="#c0c0c0"/>
<rect x="494" y="433" width="3" height="22" fill="#c0c0c0"/>
<rect x="498" y="434" width="3" height="21" fill="#c0c0c0"/>
<rect x="502" y="436" width="3" height="19" fill="#c0c0c0"/>
<rect x="506" y="437" width="3" height="18" fill="#c0c0c0"/>
<rect x="510" y="437" width="3" height="18" fill="#c0c0c0"/>
<rect x="514" y="441" width="3" height="14" fill="#c0c0c0"/>
<rect x="518" y="446" width="3" height="9" fill="#c0c0c0"/>
<rect x="522" y="449" width="3" height="6" fill="#c0c0c0"/>
<rect x="526" y="451" width="3" height="4" fill="#c0c0c0"/>
<rect x="530" y="453" width="3" height="2" fill="#c0c0c0"/>
<rect x="534" y="455" width="3" height="2" fill="#c0c0c0"/>
<rect x="538" y="455" width="3" height="3" fill="#c0c0c0"/>
<rect x="542" y="455" width="3" height="2" fill="#c0c0c0"/>
<rect x="546" y="455" width="3" height="1" fill="#c0c0c0"/>
<rect x="550" y="455" width="3" height="1" fill="#c0c0c0"/>
<rect x="554" y="454" width="3" height="1" fill="#c0c0c0"/>
<rect x="558" y="452" width="3" height="3" fill="#c0c0c0"/>
<rect x="562" y="451" width="3" height="4" fill="#c0c0c0"/>
<rect x="566" y="449" width="3" height="6" fill="#c0c0c0"/>
<rect x="570" y="448" width="3" height="7" fill="#c0c0c0"/>
<rect x="574" y="447" width="3" height="8" fill="#c0c0c0"/>
<rect x="578" y="446" width="3" height="9" fill="#c0c0c0"/>
<rect x="582" y="445" width="3" height="10" fill="#c0c0c0"/>
<rect x="586" y="445" width="3" height="10" fill="#c0c0c0"/>
<rect x="590" y="445" width="3" height="10" fill="#c0c0c0"/>
<rect x="594" y="445" width="3" height="10" fill="#c0c0c0"/>
<rect x="598" y="446" width="3" height="9" fill="#c0c0c0"/>
<rect x="602" y="446" width="3" height="9" fill="#c0c0c0"/>
<rect x="606" y="446" width="3" height="9" fill="#c0c0c0"/>
<rect x="610" y="446" width="3" height="9" fill="#c0c0c0"/>
<rect x="614" y="446" width="3" height="9" fill="#c0c0c0"/>
<rect x="618" y="446" width="3" height="9" fill="#c0c0c0"/>
<rect x="622" y="445" width="3" height="10" fill="#c0c0c0"/>
<rect x="626" y="445" width="3" height="10" fill="#c0c0c0"/>
<rect x="630" y="444" width="3" height="11" fill="#c0c0c0"/>
<rect x="634" y="446" width="3" height="9" fill="#c0c0c0"/>
<rect x="638" y="446" width="3" height="9" fill="#c0c0c0"/>
<rect x="642" y="446" width="3" height="9" fill="#c0c0c0"/>
<rect x="646" y="446" width="3" height="9" fill="#c0c0c0"/>
<rect x="650" y="446" width="3" height="9" fill="#c0c0c0"/>
<rect x="654" y="446" width="3" height="9" fill="#c0c0c0"/>
<rect x="658" y="443" width="3" height="12" fill="#c0c0c0"/>
<rect x="662" y="441" width="3" height="14" fill="#c0c0c0"/>
<rect x="666" y="439" width="3" height="16" fill="#c0c0c0"/>
<rect x="670" y="438" width="3" height="17" fill="#c0c0c0"/>
<rect x="674" y="437" width="3" height="18" fill="#c0c0c0"/>
<rect x="678" y="438" width="3" height="17" fill="#c0c0c0"/>
<rect x="682" y="436" width="3" height="19" fill="#c0c0c0"/>
<rect x="686" y="435" width="3" height="20" fill="#c0c0c0"/>
<rect x="690" y="437" width="3" height="18" fill="#c0c0c0"/>
<rect x="694" y="439" width="3" height="16" fill="#c0c0c0"/>
<rect x="698" y="440" width="3" height="15" fill="#c0c0c0"/>
<rect x="702" y="441" width="3" height="14" fill="#c0c0c0"/>
<rect x="706" y="442" width="3" height="13" fill="#c0c0c0"/>
<rect x="710" y="441" width="3" height="14" fill="#c0c0c0"/>
<rect x="714" y="439" width="3" height="16" fill="#c0c0c0"/>
<rect x="718" y="438" width="3" height="17" fill="#c0c0c0"/>
<rect x="722" y="439" width="3" height="16" fill="#c0c0c0"/>
<rect x="726" y="442" width="3" height="13" fill="#c0c0c0"/>
<rect x="730" y="445" width="3" height="10" fill="#c0c0c0"/>
<rect x="734" y="447" width="3" height="8" fill="#c0c0c0"/>
<rect x="738" y="447" width="3" height="8" fill="#c0c0c0"/>
<rect x="742" y="448" width="3" height="7" fill="#c0c0c0"/>
<rect x="746" y="449" width="3" height="6" fill="#c0c0c0"/>
<rect x="750" y="451" width="3" height="4" fill="#c0c0c0"/>
<rect x="754" y="452" width="3" height="3" fill="#c0c0c0"/>
<rect x="758" y="455" width="3" height="1" fill="#c0c0c0"/>
<rect x="762" y="455" width="3" height="4" fill="#c0c0c0"/>
<rect x="766" y="455" width="3" height="7" fill="#c0c0c0"/>
<rect x="770" y="455" width="3" height="4" fill="#c0c0c0"/>
<rect x="774" y="455" width="3" height="2" fill="#c0c0c0"/>
<rect x="778" y="454" width="3" height="1" fill="#c0c0c0"/>
<rect x="782" y="453" width="3" height="2" fill="#c0c0c0"/>
<rect x="786" y="453" width="3" height="2" fill="#c0c0c0"/>
<rect x="790" y="453" width="3" height="2" fill="#c0c0c0"/>
<rect x="794" y="450" width="3" height="5" fill="#c0c0c0"/>
<rect x="798" y="446" width="3" height="9" fill="#c0c0c0"/>
<rect x="802" y="442" width="3" height="13" fill="#c0c0c0"/>
<rect x="806" y="441" width="3" height="14" fill="#c0c0c0"/>
<rect x="810" y="440" width="3" height="15" fill="#c0c0c0"/>
<rect x="814" y="440" width="3" height="15" fill="#c0c0c0"/>
<rect x="818" y="440" width="3" height="15" fill="#c0c0c0"/>
<rect x="822" y="441" width="3" height="14" fill="#c0c0c0"/>
<rect x="826" y="441" width="3" height="14" fill="#c0c0c0"/>
<rect x="830" y="442" width="3" height="13" fill="#c0c0c0"/>
<rect x="834" y="442" width="3" height="13" fill="#c0c0c0"/>
<rect x="838" y="443" width="3" height="12" fill="#c0c0c0"/>
<rect x="842" y="443" width="3" height="12" fill="#c0c0c0"/>
<rect x="846" y="441" width="3" height="14" fill="#c0c0c0"/>
<rect x="850" y="443" width="3" height="12" fill="#c0c0c0"/>
<rect x="854" y="443" width="3" height="12" fill="#c0c0c0"/>
<rect x="858" y="443" width="3" height="12" fill="#c0c0c0"/>
<rect x="862" y="441" width="3" height="14" fill="#c0c0c0"/>
<rect x="866" y="440" width="3" height="15" fill="#c0c0c0"/>
<rect x="870" y="437" width="3" height="18" fill="#c0c0c0"/>
<rect x="874" y="436" width="3" height="19" fill="#c0c0c0"/>
<rect x="878" y="435" width="3" height="20" fill="#c0c0c0"/>
<rect x="882" y="435" width="3" height="20" fill="#c0c0c0"/>
<rect x="886" y="435" width="3" height="20" fill="#c0c0c0"/>
<rect x="890" y="436" width="3" height="19" fill="#c0c0c0"/>
<rect x="894" y="437" width="3" height="18" fill="#c0c0c0"/>
<rect x="898" y="438" width="3" height="17" fill="#c0c0c0"/>
<rect x="902" y="440" width="3" height="15" fill="#c0c0c0"/>
<rect x="906" y="441" width="3" height="14" fill="#c0c0c0"/>
<rect x="910" y="441" width="3" height="14" fill="#c0c0c0"/>
<rect x="914" y="444" width="3" height="11" fill="#c0c0c0"/>
<rect x="918" y="445" width="3" height="10" fill="#c0c0c0"/>
<rect x="922" y="447" width="3" height="8" fill="#c0c0c0"/>
<path d="M7 422h8M4 423h3M15 423h2M2 424h2M17 424h3M20 425h2M22 426h2M24 427h2M26 428h1M27 429h2M29 430h1M30 431h1M31 432h2M33 433h1M496 433h18M34 434h1M492 434h4M514 434h2M35 435h1M338 435h5M488 435h4M516 435h2M36 436h1M328 436h10M343 436h5M485 436h3M518 436h2M897 436h9M37 437h1M326 437h2M348 437h3M482 437h3M520 437h2M887 437h10M906 437h8M38 438h1M315 438h11M351 438h2M480 438h2M522 438h2M687 438h23M883 438h4M914 438h2M39 439h1M313 439h2M353 439h2M477 439h3M524 439h2M683 439h4M710 439h12M881 439h2M916 439h3M40 440h2M307 440h6M355 440h1M475 440h2M526 440h2M681 440h2M722 440h8M878 440h3M919 440h2M42 441h1M304 441h3M356 441h1M473 441h2M528 441h2M680 441h1M730 441h2M828 441h21M869 441h9M921 441h2M43 442h2M302 442h2M357 442h2M471 442h2M530 442h1M672 442h8M732 442h11M825 442h3M849 442h20M45 443h1M300 443h2M359 443h1M469 443h2M531 443h2M668 443h4M743 443h4M823 443h2M46 444h1M298 444h2M360 444h1M467 444h2M533 444h2M665 444h3M747 444h3M820 444h3M47 445h2M295 445h3M361 445h1M465 445h2M535 445h2M644 445h21M750 445h3M816 445h4M49 446h1M293 446h2M362 446h1M463 446h2M537 446h2M595 446h49M753 446h2M814 446h2M50 447h1M215 447h15M291 447h2M363 447h1M461 447h2M539 447h1M591 447h4M755 447h3M812 447h2M51 448h2M212 448h3M230 448h9M289 448h2M364 448h1M459 448h2M540 448h2M589 448h2M758 448h2M810 448h2M53 449h2M209 449h3M239 449h11M286 449h3M365 449h1M456 449h3M542 449h1M584 449h5M760 449h3M808 449h2M55 450h2M206 450h3M250 450h12M281 450h5M366 450h1M454 450h2M543 450h2M579 450h5M763 450h3M806 450h2M57 451h3M204 451h2M262 451h19M367 451h1M452 451h2M545 451h2M576 451h3M766 451h2M804 451h2M60 452h4M202 452h2M368 452h1M451 452h1M547 452h3M573 452h3M768 452h2M803 452h1M64 453h4M201 453h1M369 453h1M449 453h2M550 453h4M570 453h3M770 453h4M801 453h2M68 454h2M199 454h2M370 454h2M447 454h2M554 454h16M774 454h4M798 454h3M70 455h5M197 455h2M372 455h1M445 455h2M778 455h9M794 455h4M75 456h18M195 456h2M373 456h1M444 456h1M787 456h7M93 457h4M193 457h2M374 457h1M442 457h2M97 458h2M191 458h2M374 458h1M440 458h2M99 459h3M189 459h2M375 459h1M438 459h2M102 460h3M186 460h3M376 460h1M435 460h3M105 461h2M183 461h3M377 461h1M432 461h3M107 462h2M179 462h4M377 462h1M430 462h2M109 463h1M175 463h4M378 463h1M428 463h2M110 464h2M172 464h3M379 464h1M426 464h2M112 465h1M168 465h4M380 465h2M424 465h2M113 466h2M165 466h3M382 466h1M422 466h2M115 467h2M163 467h2M383 467h1M419 467h3M117 468h2M161 468h2M384 468h1M417 468h2M119 469h1M159 469h2M385 469h2M415 469h2M120 470h2M157 470h2M387 470h1M413 470h2M122 471h2M154 471h3M388 471h2M411 471h2M124 472h2M151 472h3M390 472h3M409 472h2M126 473h2M147 473h4M393 473h4M403 473h6M128 474h2M144 474h3M397 474h6M130 475h3M141 475h3M133 476h8" fill="none" stroke="#ff0000" stroke-width="1" transform="translate(0,0.5)"/>
</g>
<g clip-path="url(#cr)">
 <line x1="4" y1="509.5" x2="1165" y2="509.5" stroke="#c4c4c4" stroke-width="1" stroke-dasharray="3,3"/>
 <line x1="4" y1="541.5" x2="1165" y2="541.5" stroke="#c4c4c4" stroke-width="1" stroke-dasharray="3,3"/>
<path d="M687 505h1M685 506h3M684 507h1M687 507h1M683 508h1M688 508h1M486 509h2M665 509h4M673 509h3M682 509h1M688 509h1M870 509h3M3 510h1M470 510h3M484 510h2M488 510h1M659 510h6M669 510h4M676 510h1M681 510h1M688 510h1M714 510h2M868 510h2M873 510h7M4 511h1M468 511h2M473 511h4M481 511h3M488 511h1M659 511h1M677 511h1M681 511h1M688 511h1M712 511h2M716 511h2M867 511h1M880 511h1M5 512h1M295 512h1M467 512h1M477 512h4M489 512h1M658 512h1M678 512h1M680 512h1M689 512h1M711 512h1M718 512h2M866 512h1M881 512h1M5 513h1M293 513h3M322 513h7M466 513h1M489 513h1M658 513h1M679 513h1M689 513h1M711 513h1M720 513h1M799 513h5M865 513h1M882 513h1M885 513h7M6 514h1M292 514h1M296 514h1M320 514h2M329 514h4M445 514h7M465 514h1M490 514h1M657 514h1M689 514h1M710 514h1M720 514h1M798 514h1M804 514h1M864 514h1M883 514h2M892 514h1M911 514h1M7 515h1M279 515h2M285 515h7M296 515h1M318 515h2M333 515h3M443 515h2M452 515h1M465 515h1M490 515h1M623 515h1M657 515h1M689 515h1M710 515h1M721 515h1M797 515h1M805 515h2M862 515h2M893 515h2M910 515h2M8 516h2M195 516h9M271 516h1M278 516h1M281 516h4M297 516h1M309 516h4M316 516h2M336 516h1M442 516h1M452 516h1M464 516h1M491 516h1M622 516h1M624 516h2M629 516h3M656 516h1M690 516h1M709 516h1M721 516h1M797 516h1M807 516h2M860 516h2M895 516h2M910 516h1M912 516h1M10 517h2M193 517h2M204 517h1M270 517h1M272 517h1M277 517h1M297 517h1M305 517h4M313 517h3M337 517h1M441 517h1M453 517h1M463 517h1M491 517h1M578 517h2M621 517h1M626 517h3M631 517h1M656 517h1M690 517h1M709 517h1M722 517h1M796 517h1M809 517h3M845 517h4M857 517h3M897 517h3M909 517h1M912 517h1M11 518h1M192 518h1M204 518h1M269 518h1M273 518h2M276 518h1M298 518h1M303 518h2M338 518h1M431 518h1M441 518h1M454 518h1M461 518h2M492 518h1M510 518h2M576 518h2M580 518h2M620 518h1M632 518h1M650 518h6M690 518h1M708 518h1M722 518h1M795 518h1M812 518h2M829 518h4M843 518h2M849 518h8M900 518h1M909 518h1M912 518h1M12 519h1M182 519h10M205 519h1M269 519h1M275 519h1M298 519h1M301 519h2M339 519h1M430 519h1M432 519h1M440 519h1M454 519h1M460 519h1M492 519h1M508 519h2M511 519h1M573 519h3M582 519h2M607 519h2M613 519h7M632 519h1M648 519h2M690 519h1M708 519h1M723 519h1M794 519h1M814 519h3M826 519h3M833 519h3M842 519h1M901 519h1M908 519h1M912 519h1M12 520h1M180 520h2M205 520h1M231 520h1M268 520h1M299 520h2M340 520h1M429 520h1M433 520h2M437 520h3M455 520h5M493 520h1M506 520h2M512 520h1M558 520h3M565 520h8M584 520h2M589 520h7M606 520h1M609 520h4M633 520h1M639 520h9M691 520h1M702 520h6M723 520h1M773 520h8M793 520h1M817 520h4M824 520h2M836 520h1M841 520h1M902 520h1M908 520h1M913 520h1M12 521h1M179 521h1M206 521h1M230 521h1M232 521h2M267 521h1M299 521h1M340 521h1M421 521h4M428 521h1M435 521h2M493 521h1M499 521h2M504 521h2M512 521h1M556 521h2M561 521h4M586 521h3M596 521h1M605 521h1M633 521h1M638 521h1M691 521h1M700 521h2M724 521h1M771 521h2M781 521h3M793 521h1M821 521h3M837 521h1M841 521h1M903 521h5M913 521h1M13 522h1M178 522h1M206 522h1M229 522h1M234 522h3M266 522h1M341 522h1M419 522h2M425 522h3M494 522h1M497 522h2M501 522h3M513 522h1M555 522h1M597 522h2M605 522h1M634 522h1M637 522h1M691 522h9M724 522h1M739 522h1M771 522h1M784 522h1M792 522h1M838 522h1M840 522h1M913 522h1M13 523h1M178 523h1M207 523h1M209 523h3M228 523h1M237 523h8M266 523h1M341 523h1M418 523h1M494 523h1M496 523h1M513 523h1M545 523h3M553 523h2M599 523h2M604 523h1M634 523h1M637 523h1M725 523h1M738 523h1M740 523h1M746 523h2M770 523h1M785 523h1M791 523h1M839 523h1M914 523h1M13 524h1M55 524h1M70 524h2M177 524h1M207 524h2M212 524h2M217 524h3M227 524h1M245 524h3M265 524h1M342 524h1M395 524h2M401 524h3M418 524h1M495 524h1M513 524h1M542 524h3M548 524h2M552 524h1M601 524h3M635 524h2M725 524h1M738 524h1M741 524h2M744 524h2M748 524h1M770 524h1M785 524h1M789 524h2M914 524h1M13 525h1M33 525h3M53 525h2M56 525h2M61 525h4M68 525h2M72 525h1M159 525h2M171 525h1M177 525h1M214 525h3M219 525h1M227 525h1M248 525h2M264 525h1M342 525h1M393 525h2M397 525h4M404 525h2M417 525h1M514 525h1M540 525h2M550 525h2M635 525h1M726 525h1M737 525h1M743 525h1M749 525h1M770 525h1M786 525h1M788 525h1M914 525h1M919 525h2M14 526h1M29 526h4M35 526h1M52 526h1M58 526h3M65 526h3M73 526h1M79 526h1M135 526h14M158 526h1M161 526h3M170 526h1M172 526h1M176 526h1M220 526h1M226 526h1M250 526h2M264 526h1M343 526h1M392 526h1M406 526h2M417 526h1M514 526h1M539 526h1M726 526h1M736 526h1M750 526h1M770 526h1M787 526h1M914 526h1M917 526h2M921 526h3M14 527h1M26 527h3M36 527h1M49 527h3M73 527h1M77 527h2M80 527h1M134 527h1M149 527h3M157 527h1M164 527h1M170 527h1M173 527h2M176 527h1M220 527h1M226 527h1M252 527h1M258 527h6M344 527h1M391 527h1M408 527h1M416 527h1M515 527h1M527 527h1M538 527h1M727 527h6M736 527h1M751 527h2M769 527h1M915 527h2M14 528h1M24 528h2M36 528h1M43 528h6M74 528h1M76 528h1M81 528h2M133 528h1M152 528h2M156 528h1M165 528h1M169 528h1M175 528h1M221 528h1M225 528h1M253 528h2M256 528h2M344 528h1M390 528h1M409 528h2M416 528h1M515 528h1M526 528h1M528 528h2M538 528h1M733 528h3M753 528h3M769 528h1M915 528h1M15 529h1M21 529h3M37 529h1M42 529h1M75 529h1M83 529h1M133 529h1M154 529h2M165 529h1M168 529h1M221 529h1M225 529h1M255 529h1M345 529h1M389 529h1M411 529h5M516 529h1M525 529h1M530 529h2M537 529h1M756 529h1M769 529h1M15 530h6M37 530h1M42 530h1M84 530h2M132 530h1M166 530h1M168 530h1M221 530h1M225 530h1M345 530h1M389 530h1M517 530h2M524 530h1M532 530h1M537 530h1M757 530h1M769 530h1M38 531h1M41 531h1M86 531h3M123 531h1M131 531h1M167 531h1M222 531h1M224 531h1M346 531h1M388 531h1M519 531h5M533 531h1M536 531h1M758 531h1M768 531h1M38 532h1M40 532h1M89 532h7M122 532h1M124 532h1M130 532h1M222 532h1M224 532h1M346 532h1M385 532h3M534 532h1M536 532h1M759 532h1M768 532h1M39 533h2M96 533h1M121 533h1M125 533h1M129 533h1M223 533h1M347 533h1M363 533h1M383 533h2M535 533h1M760 533h2M768 533h1M39 534h1M96 534h1M115 534h2M120 534h1M126 534h1M128 534h1M223 534h1M347 534h1M362 534h1M364 534h1M383 534h1M762 534h2M768 534h1M97 535h1M115 535h1M117 535h3M127 535h1M348 535h1M362 535h1M365 535h2M382 535h1M764 535h2M767 535h1M98 536h1M114 536h1M349 536h1M361 536h1M367 536h1M382 536h1M766 536h2M98 537h1M114 537h1M349 537h1M361 537h1M368 537h1M381 537h1M99 538h1M114 538h1M350 538h1M360 538h1M369 538h1M381 538h1M100 539h1M113 539h1M351 539h6M360 539h1M370 539h1M380 539h1M101 540h2M113 540h1M357 540h3M371 540h2M380 540h1M103 541h1M112 541h1M373 541h7M104 542h2M112 542h1M106 543h2M112 543h1M108 544h2M111 544h1M110 545h2" fill="none" stroke="#1e90ff" stroke-width="1" transform="translate(0,0.5)"/>
</g>
</svg>
<svg style="position:absolute;left:6px;top:31px" width="8" height="6"><polygon points="0,5 7.2,5 3.6,0.8" fill="#000"/></svg>
<div id="t8" class="t " style="left:18.2px;top:29.14px;font-size:10px;color:#000;transform:scaleX(0.9317);transform-origin:0 0;">UKOil-,H4  121.786 121.921 121.535 121.556</div>

<div class="box" style="left:6px;top:45px;width:52px;height:25px;background:linear-gradient(#f95252,#e03535);border:1px solid #c81010;border-bottom:none;box-sizing:border-box"></div>
<div class="box" style="left:6px;top:69px;width:109px;height:33px;background:linear-gradient(#de3232,#b00505);border:1px solid #b80808;border-top:none;box-sizing:border-box"></div>
<div class="box" style="left:174px;top:45px;width:51px;height:25px;background:linear-gradient(#f95252,#e03535);border:1px solid #c81010;border-bottom:none;box-sizing:border-box"></div>
<div class="box" style="left:117px;top:69px;width:108px;height:33px;background:linear-gradient(#de3232,#b00505);border:1px solid #b80808;border-top:none;box-sizing:border-box"></div>
<div class="box" style="left:58px;top:69px;width:57px;height:1px;background:#c01010"></div>
<div class="box" style="left:117px;top:69px;width:57px;height:1px;background:#c01010"></div>
<div class="box" style="left:10px;top:68px;width:44px;height:1px;background:#a80000"></div>
<div class="box" style="left:10px;top:69px;width:44px;height:1px;background:#ff8a8a"></div>
<div class="box" style="left:177px;top:68px;width:44px;height:1px;background:#a80000"></div>
<div class="box" style="left:177px;top:69px;width:44px;height:1px;background:#ff8a8a"></div>
<div class="box" style="left:60px;top:45px;width:111px;height:22px;background:#fff;border:1px solid #a9a9a9;box-sizing:border-box"></div>
<div class="box" style="left:61px;top:46px;width:20px;height:20px;background:linear-gradient(#e6e6e6 0%,#dcdcdc 45%,#cfcfcf 50%,#d0d0d0 100%);border-right:1px solid #b5b5b5;box-sizing:border-box"></div>
<div class="box" style="left:150px;top:46px;width:20px;height:20px;background:linear-gradient(#e6e6e6 0%,#dcdcdc 45%,#cfcfcf 50%,#d0d0d0 100%);border-left:1px solid #b5b5b5;box-sizing:border-box"></div>
<svg style="position:absolute;left:68px;top:54px" width="6" height="4"><polygon points="0,0 5.4,0 2.7,3" fill="#4060c0"/></svg>
<svg style="position:absolute;left:157px;top:54px" width="6" height="4"><polygon points="0,3 5.4,3 2.7,0" fill="#4060c0"/></svg>

<div id="t9" class="t " style="left:18.5px;top:50.89px;font-size:12.3px;color:#fff;transform:scaleX(0.8307);transform-origin:0 0;">SELL</div>
<div id="t10" class="t " style="left:186.6px;top:50.89px;font-size:12.3px;color:#fff;transform:scaleX(0.9013);transform-origin:0 0;">BUY</div>
<div id="t11" class="t " style="left:122.5px;top:50.71px;font-size:11.8px;color:#000;transform:scaleX(0.9970);transform-origin:0 0;">2.00</div>
<div id="t12" class="t " style="left:29.6px;top:88.36px;font-size:10.8px;color:#fff;transform:scaleX(1.1157);transform-origin:0 0;font-weight:bold">121</div>
<div id="t13" class="t " style="left:55px;top:67.61px;font-size:34.6px;color:#fff;transform:scaleX(0.8500);transform-origin:0 0;-webkit-text-stroke:0.7px #cb2222;">55</div>
<div id="t14" class="t " style="left:93px;top:72.22px;font-size:11.2px;color:#fff;transform:scaleX(1.0266);transform-origin:0 0;font-weight:bold">6</div>
<div id="t15" class="t " style="left:139.6px;top:88.36px;font-size:10.8px;color:#fff;transform:scaleX(1.1157);transform-origin:0 0;font-weight:bold">121</div>
<div id="t16" class="t " style="left:165px;top:67.61px;font-size:34.6px;color:#fff;transform:scaleX(0.8656);transform-origin:0 0;-webkit-text-stroke:0.7px #cb2222;">67</div>
<div id="t17" class="t " style="left:204px;top:72.22px;font-size:11.2px;color:#fff;transform:scaleX(1.0266);transform-origin:0 0;font-weight:bold">6</div>
<div id="t18" class="t " style="left:8px;top:421.24px;font-size:10px;color:#000;transform:scaleX(0.9295);transform-origin:0 0;">MACD(12,26,9) 0.5859 1.0282</div>
<div id="t19" class="t " style="left:7.5px;top:488.94px;font-size:10px;color:#000;transform:scaleX(0.9143);transform-origin:0 0;">RSI(14) 49.7552</div>
<div id="t20" class="t " style="left:1171.5px;top:44.23px;font-size:10px;color:#000;transform:scaleX(0.9044);transform-origin:0 0;">124.085</div>
<div id="t21" class="t " style="left:1171.5px;top:77.23px;font-size:10px;color:#000;transform:scaleX(0.9044);transform-origin:0 0;">121.810</div>
<div id="t22" class="t " style="left:1171.5px;top:110.23px;font-size:10px;color:#000;transform:scaleX(0.9236);transform-origin:0 0;">119.535</div>
<div id="t23" class="t " style="left:1171.5px;top:143.24px;font-size:10px;color:#000;transform:scaleX(0.9236);transform-origin:0 0;">117.260</div>
<div id="t24" class="t " style="left:1171.5px;top:176.24px;font-size:10px;color:#000;transform:scaleX(0.9236);transform-origin:0 0;">114.985</div>
<div id="t25" class="t " style="left:1171.5px;top:209.24px;font-size:10px;color:#000;transform:scaleX(0.9236);transform-origin:0 0;">112.645</div>
<div id="t26" class="t " style="left:1171.5px;top:242.24px;font-size:10px;color:#000;transform:scaleX(0.9236);transform-origin:0 0;">110.370</div>
<div id="t27" class="t " style="left:1171.5px;top:275.24px;font-size:10px;color:#000;transform:scaleX(0.9044);transform-origin:0 0;">108.095</div>
<div id="t28" class="t " style="left:1171.5px;top:308.24px;font-size:10px;color:#000;transform:scaleX(0.9044);transform-origin:0 0;">105.820</div>
<div id="t29" class="t " style="left:1171.5px;top:341.24px;font-size:10px;color:#000;transform:scaleX(0.9044);transform-origin:0 0;">103.545</div>
<div id="t30" class="t " style="left:1171.5px;top:374.24px;font-size:10px;color:#000;transform:scaleX(0.9044);transform-origin:0 0;">101.270</div>
<div id="t31" class="t " style="left:1171.5px;top:407.24px;font-size:10px;color:#000;transform:scaleX(0.9152);transform-origin:0 0;">98.995</div>
<div class="box" style="left:1167px;top:80px;width:41px;height:11px;background:#000"></div><div id="t32" class="t " style="left:1171.5px;top:81.44px;font-size:10px;color:#fff;transform:scaleX(0.9044);transform-origin:0 0;">121.556</div>
<div class="box" style="left:1167px;top:116px;width:41px;height:11px;background:#ff0000"></div><div id="t33" class="t " style="left:1171.5px;top:117.44px;font-size:10px;color:#fff;transform:scaleX(0.9236);transform-origin:0 0;">119.007</div>
<div class="box" style="left:1167px;top:173px;width:41px;height:11px;background:#00ff00"></div><div id="t34" class="t " style="left:1171.5px;top:174.44px;font-size:10px;color:#fff;transform:scaleX(0.9236);transform-origin:0 0;">115.021</div>
<div class="box" style="left:1167px;top:231px;width:41px;height:11px;background:#0000ff"></div><div id="t35" class="t " style="left:1171.5px;top:232.44px;font-size:10px;color:#fff;transform:scaleX(0.9431);transform-origin:0 0;">111.024</div>
<div class="box" style="left:1167px;top:289px;width:41px;height:11px;background:#0000ff"></div><div id="t36" class="t " style="left:1171.5px;top:290.44px;font-size:10px;color:#fff;transform:scaleX(0.9044);transform-origin:0 0;">107.026</div>
<div id="t37" class="t " style="left:1169.5px;top:419.44px;font-size:10px;color:#000;transform:scaleX(0.8923);transform-origin:0 0;">2.7078</div>
<div id="t38" class="t " style="left:1169.5px;top:451.24px;font-size:10px;color:#000;transform:scaleX(0.8732);transform-origin:0 0;">0.00</div>
<div id="t39" class="t " style="left:1169.5px;top:471.44px;font-size:10px;color:#000;transform:scaleX(0.8844);transform-origin:0 0;">-1.9038</div>
<div id="t40" class="t " style="left:1169.5px;top:487.04px;font-size:10px;color:#000;transform:scaleX(0.8809);transform-origin:0 0;">100</div>
<div id="t41" class="t " style="left:1168.4px;top:505.64px;font-size:10px;color:#000;transform:scaleX(0.8629);transform-origin:0 0;">70</div>
<div id="t42" class="t " style="left:1168.4px;top:537.43px;font-size:10px;color:#000;transform:scaleX(0.8629);transform-origin:0 0;">30</div>
<div id="t43" class="t " style="left:1169.5px;top:555.43px;font-size:10px;color:#000;">0</div>
<div id="t44" class="t dl" style="left:2.3px;top:570.93px;font-size:10px;color:#000;transform:scaleX(0.9289);transform-origin:0 0;">19 Apr 2022</div>
<div id="t45" class="t dl" style="left:66.3px;top:570.93px;font-size:10px;color:#000;transform:scaleX(0.9344);transform-origin:0 0;">21 Apr 16:00</div>
<div id="t46" class="t dl" style="left:130.3px;top:570.93px;font-size:10px;color:#000;transform:scaleX(0.9485);transform-origin:0 0;">26 Apr 08:00</div>
<div id="t47" class="t dl" style="left:194.3px;top:570.93px;font-size:10px;color:#000;transform:scaleX(0.9274);transform-origin:0 0;">29 Apr 04:00</div>
<div id="t48" class="t dl" style="left:258.3px;top:570.93px;font-size:10px;color:#000;transform:scaleX(0.9537);transform-origin:0 0;">3 May 20:00</div>
<div id="t49" class="t dl" style="left:322.3px;top:570.93px;font-size:10px;color:#000;transform:scaleX(0.9555);transform-origin:0 0;">6 May 12:00</div>
<div id="t50" class="t dl" style="left:386.3px;top:570.93px;font-size:10px;color:#000;transform:scaleX(0.9439);transform-origin:0 0;">11 May 04:00</div>
<div id="t51" class="t dl" style="left:450.3px;top:570.93px;font-size:10px;color:#000;transform:scaleX(0.9289);transform-origin:0 0;">13 May 20:00</div>
<div id="t52" class="t dl" style="left:514.3px;top:570.93px;font-size:10px;color:#000;transform:scaleX(0.9338);transform-origin:0 0;">18 May 12:00</div>
<div id="t53" class="t dl" style="left:578.3px;top:570.93px;font-size:10px;color:#000;transform:scaleX(0.9322);transform-origin:0 0;">23 May 04:00</div>
<div id="t54" class="t dl" style="left:642.3px;top:570.93px;font-size:10px;color:#000;transform:scaleX(0.9338);transform-origin:0 0;">25 May 20:00</div>
<div id="t55" class="t dl" style="left:706.3px;top:570.93px;font-size:10px;color:#000;transform:scaleX(0.9371);transform-origin:0 0;">30 May 16:00</div>
<div id="t56" class="t dl" style="left:770.3px;top:570.93px;font-size:10px;color:#000;transform:scaleX(0.9050);transform-origin:0 0;">2 Jun 12:00</div>
<div id="t57" class="t dl" style="left:834.3px;top:570.93px;font-size:10px;color:#000;transform:scaleX(0.9088);transform-origin:0 0;">7 Jun 04:00</div>
<div id="t58" class="t dl" style="left:898.3px;top:570.93px;font-size:10px;color:#000;transform:scaleX(0.9031);transform-origin:0 0;">9 Jun 20:00</div>
<div class="box" style="left:0;top:587px;width:1208px;height:2px;background:#f4f4f4"></div>
<div class="box" style="left:0;top:590px;width:1208px;height:20px;background:#f0f0f0"></div>
<div class="box" style="left:0;top:589px;width:1208px;height:1px;background:#000"></div>
<div class="box" style="left:0;top:610px;width:1208px;height:2px;background:#fafafa"></div>
<div class="box" style="left:0;top:612px;width:1208px;height:1px;background:#a0a0a0"></div>
<div class="box" style="left:0;top:613px;width:1208px;height:2px;background:#fcfcfc"></div>
<div class="box" style="left:110px;top:613px;width:84px;height:2px;background:#e3f2fd;border-left:1px solid #9cc8ea;border-right:1px solid #9cc8ea;box-sizing:border-box"></div>
<div class="box" style="left:1077px;top:589px;width:79px;height:19px;background:#fff;border:1px solid #000;border-top:none;box-sizing:border-box"></div>
<div id="t59" class="t " style="left:15.4px;top:593.54px;font-size:12px;color:#6e6e6e;transform:scaleX(0.9966);transform-origin:0 0;">EURUSD-,Daily</div>
<div id="t60" class="t " style="left:122.3px;top:593.54px;font-size:12px;color:#6e6e6e;transform:scaleX(1.0202);transform-origin:0 0;">AUDUSD-,Daily</div>
<div id="t61" class="t " style="left:232.3px;top:593.54px;font-size:12px;color:#6e6e6e;transform:scaleX(0.9952);transform-origin:0 0;">USDCHF-,Daily</div>
<div id="t62" class="t " style="left:339.5px;top:593.54px;font-size:12px;color:#6e6e6e;transform:scaleX(1.0072);transform-origin:0 0;">USDCAD-,Daily</div>
<div id="t63" class="t " style="left:448.3px;top:593.54px;font-size:12px;color:#6e6e6e;transform:scaleX(1.0194);transform-origin:0 0;">USDCNH-,Daily</div>
<div id="t64" class="t " style="left:559.3px;top:593.54px;font-size:12px;color:#6e6e6e;transform:scaleX(1.0071);transform-origin:0 0;">XAUUSD-,H1</div>
<div id="t65" class="t " style="left:655.2px;top:593.54px;font-size:12px;color:#6e6e6e;transform:scaleX(1.0452);transform-origin:0 0;">UKOil-,Daily</div>
<div id="t66" class="t " style="left:748.3px;top:593.54px;font-size:12px;color:#6e6e6e;transform:scaleX(1.0269);transform-origin:0 0;">USOil-,Daily</div>
<div id="t67" class="t " style="left:838.5px;top:593.54px;font-size:12px;color:#6e6e6e;transform:scaleX(1.0382);transform-origin:0 0;">HK50-,H1</div>
<div id="t68" class="t " style="left:914.7px;top:593.54px;font-size:12px;color:#6e6e6e;transform:scaleX(0.9674);transform-origin:0 0;">EURCHF-,H1</div>
<div id="t69" class="t " style="left:1007.8px;top:593.54px;font-size:12px;color:#6e6e6e;transform:scaleX(1.0386);transform-origin:0 0;">USOil-,H4</div>
<div id="t70" class="t " style="left:1087.3px;top:593.54px;font-size:12px;color:#000;transform:scaleX(1.0497);transform-origin:0 0;">UKOil-,H4</div>
<div class="box" style="left:112px;top:592px;width:1px;height:14px;background:#505050"></div>
<div class="box" style="left:220px;top:592px;width:1px;height:14px;background:#505050"></div>
<div class="box" style="left:328px;top:592px;width:1px;height:14px;background:#505050"></div>
<div class="box" style="left:436px;top:592px;width:1px;height:14px;background:#505050"></div>
<div class="box" style="left:548px;top:592px;width:1px;height:14px;background:#505050"></div>
<div class="box" style="left:645px;top:592px;width:1px;height:14px;background:#505050"></div>
<div class="box" style="left:737px;top:592px;width:1px;height:14px;background:#505050"></div>
<div class="box" style="left:828px;top:592px;width:1px;height:14px;background:#505050"></div>
<div class="box" style="left:904px;top:592px;width:1px;height:14px;background:#505050"></div>
<div class="box" style="left:996px;top:592px;width:1px;height:14px;background:#505050"></div>
<svg style="position:absolute;left:1180px;top:595px" width="5" height="8"><polygon points="4,0 4,7 0,3.5" fill="#000"/></svg>
<svg style="position:absolute;left:1199px;top:595px" width="5" height="8"><polygon points="0,0 0,7 4,3.5" fill="#8c8c8c"/></svg>
</body></html>
